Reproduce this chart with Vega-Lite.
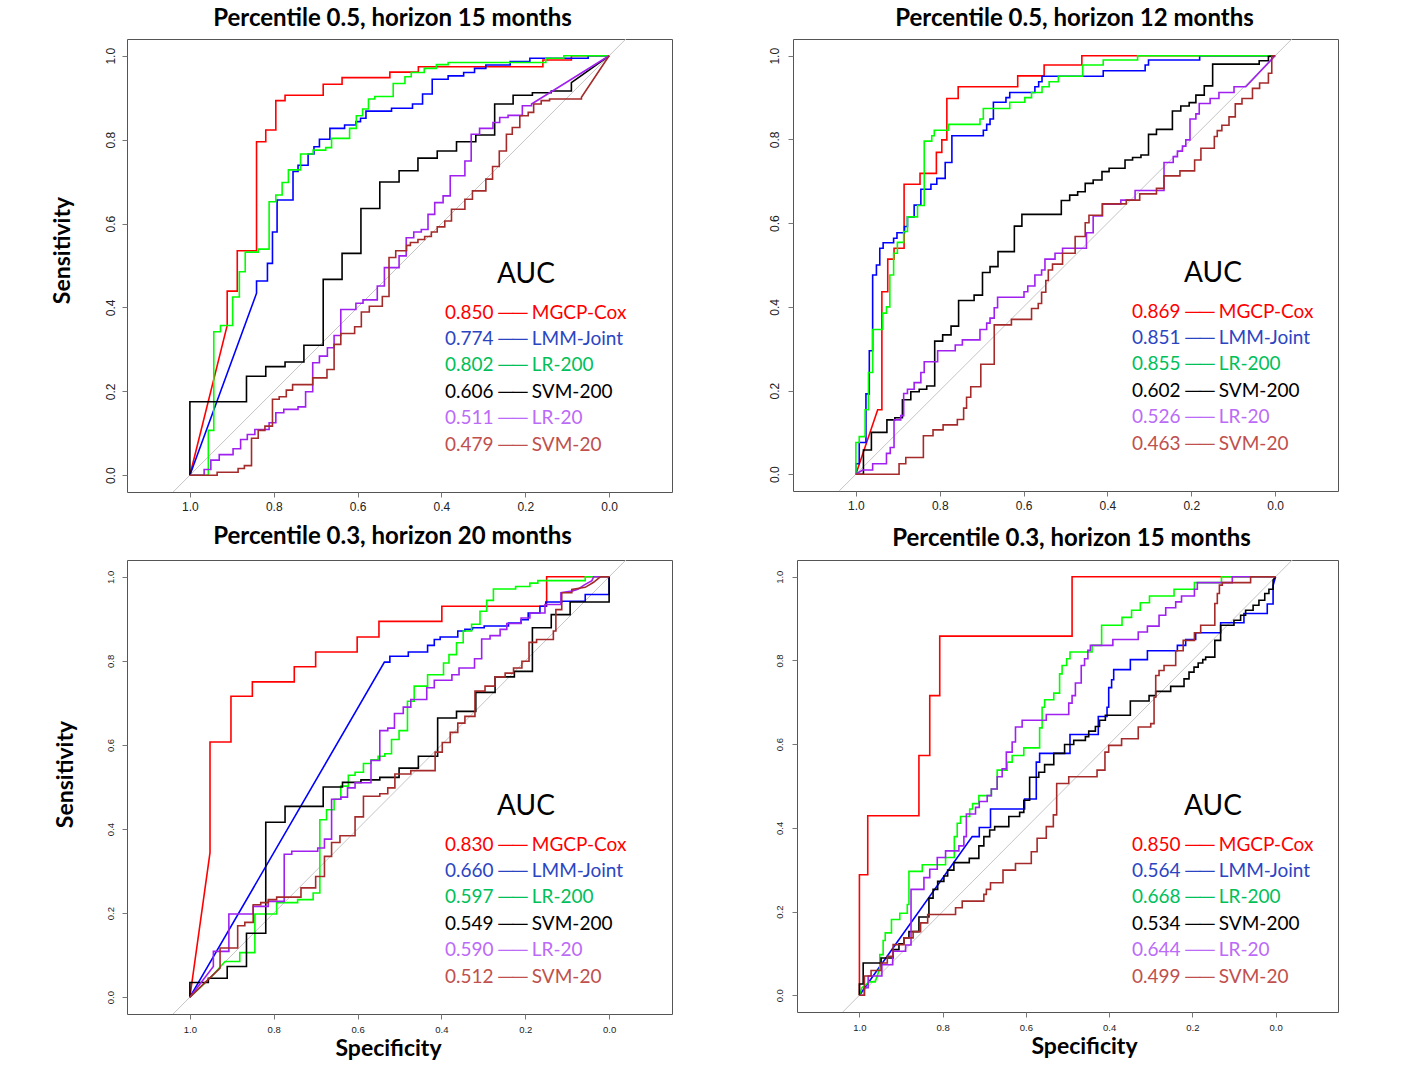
{
"$schema": "https://vega.github.io/schema/vega-lite/v6.json",
"background": "white",
"padding": {"left": 50, "top": 6, "right": 0, "bottom": 0},
"config": {
 "view": {"stroke": "#555", "strokeWidth": 1},
 "title": {"font": "Lato", "fontSize": 24, "fontWeight": "bold", "color": "#000", "anchor": "middle", "baseline": "alphabetic"},
 "axis": {"grid": false, "domain": false, "tickColor": "#777", "tickSize": 5, "labelFont": "Liberation Sans", "labelColor": "#222", "titleFont": "Lato", "titleFontSize": 23, "titleFontWeight": "bold", "titleColor": "#000"},
 "legend": {"titleFont": "Lato", "titleFontSize": 28, "titleFontWeight": "normal", "titleColor": "#000", "titleAnchor": "middle", "titleAlign": "center", "titlePadding": 14, "labelFont": "Lato", "labelFontSize": 19, "labelLimit": 400, "rowPadding": 6.4, "symbolSize": 0, "symbolOpacity": 0, "symbolStrokeWidth": 0, "labelOffset": 0}
},
"datasets": {
 "diag": [{"x": 1.04, "y": -0.04}, {"x": -0.04, "y": 1.04}],
 "roc": [
{"p":1,"m":"MGCP-Cox","x":1,"y":0},{"p":1,"m":"MGCP-Cox","x":0.911,"y":0.357},{"p":1,"m":"MGCP-Cox","x":0.911,"y":0.439},{"p":1,"m":"MGCP-Cox","x":0.887,"y":0.439},{"p":1,"m":"MGCP-Cox","x":0.887,"y":0.535},{"p":1,"m":"MGCP-Cox","x":0.841,"y":0.535},{"p":1,"m":"MGCP-Cox","x":0.841,"y":0.795},{"p":1,"m":"MGCP-Cox","x":0.819,"y":0.795},{"p":1,"m":"MGCP-Cox","x":0.819,"y":0.823},{"p":1,"m":"MGCP-Cox","x":0.795,"y":0.823},{"p":1,"m":"MGCP-Cox","x":0.795,"y":0.893},{"p":1,"m":"MGCP-Cox","x":0.773,"y":0.893},{"p":1,"m":"MGCP-Cox","x":0.773,"y":0.906},{"p":1,"m":"MGCP-Cox","x":0.682,"y":0.906},{"p":1,"m":"MGCP-Cox","x":0.682,"y":0.932},{"p":1,"m":"MGCP-Cox","x":0.637,"y":0.932},{"p":1,"m":"MGCP-Cox","x":0.637,"y":0.948},{"p":1,"m":"MGCP-Cox","x":0.523,"y":0.948},{"p":1,"m":"MGCP-Cox","x":0.523,"y":0.961},{"p":1,"m":"MGCP-Cox","x":0.455,"y":0.961},{"p":1,"m":"MGCP-Cox","x":0.455,"y":0.974},{"p":1,"m":"MGCP-Cox","x":0.158,"y":0.974},{"p":1,"m":"MGCP-Cox","x":0.158,"y":0.99},{"p":1,"m":"MGCP-Cox","x":0.09,"y":0.99},{"p":1,"m":"MGCP-Cox","x":0.09,"y":1},{"p":1,"m":"MGCP-Cox","x":0,"y":1},
{"p":1,"m":"LMM-Joint","x":1,"y":0},{"p":1,"m":"LMM-Joint","x":0.841,"y":0.434},{"p":1,"m":"LMM-Joint","x":0.841,"y":0.463},{"p":1,"m":"LMM-Joint","x":0.815,"y":0.463},{"p":1,"m":"LMM-Joint","x":0.815,"y":0.505},{"p":1,"m":"LMM-Joint","x":0.803,"y":0.505},{"p":1,"m":"LMM-Joint","x":0.803,"y":0.58},{"p":1,"m":"LMM-Joint","x":0.792,"y":0.58},{"p":1,"m":"LMM-Joint","x":0.792,"y":0.656},{"p":1,"m":"LMM-Joint","x":0.754,"y":0.656},{"p":1,"m":"LMM-Joint","x":0.754,"y":0.724},{"p":1,"m":"LMM-Joint","x":0.742,"y":0.724},{"p":1,"m":"LMM-Joint","x":0.742,"y":0.739},{"p":1,"m":"LMM-Joint","x":0.718,"y":0.739},{"p":1,"m":"LMM-Joint","x":0.718,"y":0.766},{"p":1,"m":"LMM-Joint","x":0.704,"y":0.766},{"p":1,"m":"LMM-Joint","x":0.704,"y":0.783},{"p":1,"m":"LMM-Joint","x":0.691,"y":0.783},{"p":1,"m":"LMM-Joint","x":0.691,"y":0.801},{"p":1,"m":"LMM-Joint","x":0.666,"y":0.801},{"p":1,"m":"LMM-Joint","x":0.666,"y":0.827},{"p":1,"m":"LMM-Joint","x":0.631,"y":0.827},{"p":1,"m":"LMM-Joint","x":0.631,"y":0.835},{"p":1,"m":"LMM-Joint","x":0.604,"y":0.835},{"p":1,"m":"LMM-Joint","x":0.604,"y":0.843},{"p":1,"m":"LMM-Joint","x":0.593,"y":0.843},{"p":1,"m":"LMM-Joint","x":0.593,"y":0.851},{"p":1,"m":"LMM-Joint","x":0.58,"y":0.851},{"p":1,"m":"LMM-Joint","x":0.58,"y":0.868},{"p":1,"m":"LMM-Joint","x":0.519,"y":0.868},{"p":1,"m":"LMM-Joint","x":0.519,"y":0.875},{"p":1,"m":"LMM-Joint","x":0.469,"y":0.875},{"p":1,"m":"LMM-Joint","x":0.469,"y":0.885},{"p":1,"m":"LMM-Joint","x":0.445,"y":0.885},{"p":1,"m":"LMM-Joint","x":0.445,"y":0.909},{"p":1,"m":"LMM-Joint","x":0.422,"y":0.909},{"p":1,"m":"LMM-Joint","x":0.422,"y":0.944},{"p":1,"m":"LMM-Joint","x":0.384,"y":0.944},{"p":1,"m":"LMM-Joint","x":0.384,"y":0.952},{"p":1,"m":"LMM-Joint","x":0.347,"y":0.952},{"p":1,"m":"LMM-Joint","x":0.347,"y":0.96},{"p":1,"m":"LMM-Joint","x":0.321,"y":0.96},{"p":1,"m":"LMM-Joint","x":0.321,"y":0.97},{"p":1,"m":"LMM-Joint","x":0.294,"y":0.97},{"p":1,"m":"LMM-Joint","x":0.294,"y":0.978},{"p":1,"m":"LMM-Joint","x":0.236,"y":0.978},{"p":1,"m":"LMM-Joint","x":0.236,"y":0.986},{"p":1,"m":"LMM-Joint","x":0.189,"y":0.986},{"p":1,"m":"LMM-Joint","x":0.189,"y":0.994},{"p":1,"m":"LMM-Joint","x":0.05,"y":0.994},{"p":1,"m":"LMM-Joint","x":0.05,"y":1},{"p":1,"m":"LMM-Joint","x":0,"y":1},
{"p":1,"m":"LR-200","x":1,"y":0},{"p":1,"m":"LR-200","x":0.956,"y":0},{"p":1,"m":"LR-200","x":0.956,"y":0.107},{"p":1,"m":"LR-200","x":0.943,"y":0.107},{"p":1,"m":"LR-200","x":0.943,"y":0.342},{"p":1,"m":"LR-200","x":0.927,"y":0.342},{"p":1,"m":"LR-200","x":0.927,"y":0.357},{"p":1,"m":"LR-200","x":0.898,"y":0.357},{"p":1,"m":"LR-200","x":0.898,"y":0.425},{"p":1,"m":"LR-200","x":0.882,"y":0.425},{"p":1,"m":"LR-200","x":0.882,"y":0.485},{"p":1,"m":"LR-200","x":0.868,"y":0.485},{"p":1,"m":"LR-200","x":0.868,"y":0.532},{"p":1,"m":"LR-200","x":0.837,"y":0.532},{"p":1,"m":"LR-200","x":0.837,"y":0.539},{"p":1,"m":"LR-200","x":0.811,"y":0.539},{"p":1,"m":"LR-200","x":0.811,"y":0.652},{"p":1,"m":"LR-200","x":0.795,"y":0.652},{"p":1,"m":"LR-200","x":0.795,"y":0.668},{"p":1,"m":"LR-200","x":0.78,"y":0.668},{"p":1,"m":"LR-200","x":0.78,"y":0.698},{"p":1,"m":"LR-200","x":0.765,"y":0.698},{"p":1,"m":"LR-200","x":0.765,"y":0.728},{"p":1,"m":"LR-200","x":0.736,"y":0.728},{"p":1,"m":"LR-200","x":0.736,"y":0.766},{"p":1,"m":"LR-200","x":0.706,"y":0.766},{"p":1,"m":"LR-200","x":0.706,"y":0.775},{"p":1,"m":"LR-200","x":0.676,"y":0.775},{"p":1,"m":"LR-200","x":0.676,"y":0.781},{"p":1,"m":"LR-200","x":0.662,"y":0.781},{"p":1,"m":"LR-200","x":0.662,"y":0.803},{"p":1,"m":"LR-200","x":0.619,"y":0.803},{"p":1,"m":"LR-200","x":0.619,"y":0.827},{"p":1,"m":"LR-200","x":0.603,"y":0.827},{"p":1,"m":"LR-200","x":0.603,"y":0.857},{"p":1,"m":"LR-200","x":0.588,"y":0.857},{"p":1,"m":"LR-200","x":0.588,"y":0.873},{"p":1,"m":"LR-200","x":0.574,"y":0.873},{"p":1,"m":"LR-200","x":0.574,"y":0.897},{"p":1,"m":"LR-200","x":0.559,"y":0.897},{"p":1,"m":"LR-200","x":0.559,"y":0.903},{"p":1,"m":"LR-200","x":0.515,"y":0.903},{"p":1,"m":"LR-200","x":0.515,"y":0.934},{"p":1,"m":"LR-200","x":0.487,"y":0.934},{"p":1,"m":"LR-200","x":0.487,"y":0.95},{"p":1,"m":"LR-200","x":0.472,"y":0.95},{"p":1,"m":"LR-200","x":0.472,"y":0.96},{"p":1,"m":"LR-200","x":0.441,"y":0.96},{"p":1,"m":"LR-200","x":0.441,"y":0.97},{"p":1,"m":"LR-200","x":0.412,"y":0.97},{"p":1,"m":"LR-200","x":0.412,"y":0.979},{"p":1,"m":"LR-200","x":0.384,"y":0.979},{"p":1,"m":"LR-200","x":0.384,"y":0.984},{"p":1,"m":"LR-200","x":0.151,"y":0.984},{"p":1,"m":"LR-200","x":0.151,"y":0.994},{"p":1,"m":"LR-200","x":0.108,"y":0.994},{"p":1,"m":"LR-200","x":0.108,"y":1},{"p":1,"m":"LR-200","x":0,"y":1},
{"p":1,"m":"SVM-200","x":1,"y":0},{"p":1,"m":"SVM-200","x":1,"y":0.175},{"p":1,"m":"SVM-200","x":0.865,"y":0.175},{"p":1,"m":"SVM-200","x":0.865,"y":0.236},{"p":1,"m":"SVM-200","x":0.819,"y":0.236},{"p":1,"m":"SVM-200","x":0.819,"y":0.259},{"p":1,"m":"SVM-200","x":0.773,"y":0.259},{"p":1,"m":"SVM-200","x":0.773,"y":0.27},{"p":1,"m":"SVM-200","x":0.728,"y":0.27},{"p":1,"m":"SVM-200","x":0.728,"y":0.31},{"p":1,"m":"SVM-200","x":0.682,"y":0.31},{"p":1,"m":"SVM-200","x":0.682,"y":0.467},{"p":1,"m":"SVM-200","x":0.637,"y":0.467},{"p":1,"m":"SVM-200","x":0.637,"y":0.529},{"p":1,"m":"SVM-200","x":0.592,"y":0.529},{"p":1,"m":"SVM-200","x":0.592,"y":0.636},{"p":1,"m":"SVM-200","x":0.547,"y":0.636},{"p":1,"m":"SVM-200","x":0.547,"y":0.699},{"p":1,"m":"SVM-200","x":0.501,"y":0.699},{"p":1,"m":"SVM-200","x":0.501,"y":0.726},{"p":1,"m":"SVM-200","x":0.456,"y":0.726},{"p":1,"m":"SVM-200","x":0.456,"y":0.756},{"p":1,"m":"SVM-200","x":0.41,"y":0.756},{"p":1,"m":"SVM-200","x":0.41,"y":0.773},{"p":1,"m":"SVM-200","x":0.364,"y":0.773},{"p":1,"m":"SVM-200","x":0.364,"y":0.795},{"p":1,"m":"SVM-200","x":0.318,"y":0.795},{"p":1,"m":"SVM-200","x":0.318,"y":0.811},{"p":1,"m":"SVM-200","x":0.273,"y":0.811},{"p":1,"m":"SVM-200","x":0.273,"y":0.885},{"p":1,"m":"SVM-200","x":0.229,"y":0.885},{"p":1,"m":"SVM-200","x":0.229,"y":0.906},{"p":1,"m":"SVM-200","x":0.183,"y":0.906},{"p":1,"m":"SVM-200","x":0.183,"y":0.912},{"p":1,"m":"SVM-200","x":0.138,"y":0.912},{"p":1,"m":"SVM-200","x":0.138,"y":0.916},{"p":1,"m":"SVM-200","x":0.09,"y":0.916},{"p":1,"m":"SVM-200","x":0.09,"y":0.936},{"p":1,"m":"SVM-200","x":0,"y":1},
{"p":1,"m":"LR-20","x":1,"y":0},{"p":1,"m":"LR-20","x":0.966,"y":0},{"p":1,"m":"LR-20","x":0.966,"y":0.0135},{"p":1,"m":"LR-20","x":0.95,"y":0.0135},{"p":1,"m":"LR-20","x":0.95,"y":0.036},{"p":1,"m":"LR-20","x":0.93,"y":0.036},{"p":1,"m":"LR-20","x":0.93,"y":0.049},{"p":1,"m":"LR-20","x":0.897,"y":0.049},{"p":1,"m":"LR-20","x":0.897,"y":0.063},{"p":1,"m":"LR-20","x":0.879,"y":0.063},{"p":1,"m":"LR-20","x":0.879,"y":0.085},{"p":1,"m":"LR-20","x":0.863,"y":0.085},{"p":1,"m":"LR-20","x":0.863,"y":0.097},{"p":1,"m":"LR-20","x":0.845,"y":0.097},{"p":1,"m":"LR-20","x":0.845,"y":0.109},{"p":1,"m":"LR-20","x":0.811,"y":0.109},{"p":1,"m":"LR-20","x":0.811,"y":0.125},{"p":1,"m":"LR-20","x":0.795,"y":0.125},{"p":1,"m":"LR-20","x":0.795,"y":0.149},{"p":1,"m":"LR-20","x":0.776,"y":0.149},{"p":1,"m":"LR-20","x":0.776,"y":0.157},{"p":1,"m":"LR-20","x":0.742,"y":0.157},{"p":1,"m":"LR-20","x":0.742,"y":0.163},{"p":1,"m":"LR-20","x":0.724,"y":0.163},{"p":1,"m":"LR-20","x":0.724,"y":0.199},{"p":1,"m":"LR-20","x":0.707,"y":0.199},{"p":1,"m":"LR-20","x":0.707,"y":0.268},{"p":1,"m":"LR-20","x":0.691,"y":0.268},{"p":1,"m":"LR-20","x":0.691,"y":0.284},{"p":1,"m":"LR-20","x":0.672,"y":0.284},{"p":1,"m":"LR-20","x":0.672,"y":0.304},{"p":1,"m":"LR-20","x":0.656,"y":0.304},{"p":1,"m":"LR-20","x":0.656,"y":0.333},{"p":1,"m":"LR-20","x":0.64,"y":0.333},{"p":1,"m":"LR-20","x":0.64,"y":0.395},{"p":1,"m":"LR-20","x":0.604,"y":0.395},{"p":1,"m":"LR-20","x":0.604,"y":0.41},{"p":1,"m":"LR-20","x":0.587,"y":0.41},{"p":1,"m":"LR-20","x":0.587,"y":0.418},{"p":1,"m":"LR-20","x":0.553,"y":0.418},{"p":1,"m":"LR-20","x":0.553,"y":0.451},{"p":1,"m":"LR-20","x":0.536,"y":0.451},{"p":1,"m":"LR-20","x":0.536,"y":0.495},{"p":1,"m":"LR-20","x":0.501,"y":0.495},{"p":1,"m":"LR-20","x":0.501,"y":0.523},{"p":1,"m":"LR-20","x":0.484,"y":0.523},{"p":1,"m":"LR-20","x":0.484,"y":0.566},{"p":1,"m":"LR-20","x":0.466,"y":0.566},{"p":1,"m":"LR-20","x":0.466,"y":0.58},{"p":1,"m":"LR-20","x":0.448,"y":0.58},{"p":1,"m":"LR-20","x":0.448,"y":0.586},{"p":1,"m":"LR-20","x":0.432,"y":0.586},{"p":1,"m":"LR-20","x":0.432,"y":0.622},{"p":1,"m":"LR-20","x":0.416,"y":0.622},{"p":1,"m":"LR-20","x":0.416,"y":0.65},{"p":1,"m":"LR-20","x":0.396,"y":0.65},{"p":1,"m":"LR-20","x":0.396,"y":0.666},{"p":1,"m":"LR-20","x":0.379,"y":0.666},{"p":1,"m":"LR-20","x":0.379,"y":0.714},{"p":1,"m":"LR-20","x":0.344,"y":0.714},{"p":1,"m":"LR-20","x":0.344,"y":0.749},{"p":1,"m":"LR-20","x":0.329,"y":0.749},{"p":1,"m":"LR-20","x":0.329,"y":0.813},{"p":1,"m":"LR-20","x":0.309,"y":0.813},{"p":1,"m":"LR-20","x":0.309,"y":0.827},{"p":1,"m":"LR-20","x":0.277,"y":0.827},{"p":1,"m":"LR-20","x":0.277,"y":0.841},{"p":1,"m":"LR-20","x":0.261,"y":0.841},{"p":1,"m":"LR-20","x":0.261,"y":0.853},{"p":1,"m":"LR-20","x":0.241,"y":0.853},{"p":1,"m":"LR-20","x":0.241,"y":0.858},{"p":1,"m":"LR-20","x":0.207,"y":0.858},{"p":1,"m":"LR-20","x":0.207,"y":0.881},{"p":1,"m":"LR-20","x":0.185,"y":0.881},{"p":1,"m":"LR-20","x":0.185,"y":0.885},{"p":1,"m":"LR-20","x":0,"y":1},
{"p":1,"m":"SVM-20","x":1,"y":0},{"p":1,"m":"SVM-20","x":0.935,"y":0},{"p":1,"m":"SVM-20","x":0.935,"y":0.007},{"p":1,"m":"SVM-20","x":0.885,"y":0.007},{"p":1,"m":"SVM-20","x":0.885,"y":0.016},{"p":1,"m":"SVM-20","x":0.87,"y":0.016},{"p":1,"m":"SVM-20","x":0.87,"y":0.023},{"p":1,"m":"SVM-20","x":0.853,"y":0.023},{"p":1,"m":"SVM-20","x":0.853,"y":0.088},{"p":1,"m":"SVM-20","x":0.837,"y":0.088},{"p":1,"m":"SVM-20","x":0.837,"y":0.107},{"p":1,"m":"SVM-20","x":0.821,"y":0.107},{"p":1,"m":"SVM-20","x":0.821,"y":0.117},{"p":1,"m":"SVM-20","x":0.803,"y":0.117},{"p":1,"m":"SVM-20","x":0.803,"y":0.181},{"p":1,"m":"SVM-20","x":0.787,"y":0.181},{"p":1,"m":"SVM-20","x":0.787,"y":0.187},{"p":1,"m":"SVM-20","x":0.77,"y":0.187},{"p":1,"m":"SVM-20","x":0.77,"y":0.203},{"p":1,"m":"SVM-20","x":0.755,"y":0.203},{"p":1,"m":"SVM-20","x":0.755,"y":0.216},{"p":1,"m":"SVM-20","x":0.707,"y":0.216},{"p":1,"m":"SVM-20","x":0.707,"y":0.232},{"p":1,"m":"SVM-20","x":0.673,"y":0.232},{"p":1,"m":"SVM-20","x":0.673,"y":0.252},{"p":1,"m":"SVM-20","x":0.656,"y":0.252},{"p":1,"m":"SVM-20","x":0.656,"y":0.312},{"p":1,"m":"SVM-20","x":0.64,"y":0.312},{"p":1,"m":"SVM-20","x":0.64,"y":0.338},{"p":1,"m":"SVM-20","x":0.607,"y":0.338},{"p":1,"m":"SVM-20","x":0.607,"y":0.354},{"p":1,"m":"SVM-20","x":0.591,"y":0.354},{"p":1,"m":"SVM-20","x":0.591,"y":0.389},{"p":1,"m":"SVM-20","x":0.572,"y":0.389},{"p":1,"m":"SVM-20","x":0.572,"y":0.403},{"p":1,"m":"SVM-20","x":0.541,"y":0.403},{"p":1,"m":"SVM-20","x":0.541,"y":0.426},{"p":1,"m":"SVM-20","x":0.525,"y":0.426},{"p":1,"m":"SVM-20","x":0.525,"y":0.519},{"p":1,"m":"SVM-20","x":0.509,"y":0.519},{"p":1,"m":"SVM-20","x":0.509,"y":0.535},{"p":1,"m":"SVM-20","x":0.483,"y":0.535},{"p":1,"m":"SVM-20","x":0.483,"y":0.548},{"p":1,"m":"SVM-20","x":0.474,"y":0.548},{"p":1,"m":"SVM-20","x":0.474,"y":0.555},{"p":1,"m":"SVM-20","x":0.456,"y":0.555},{"p":1,"m":"SVM-20","x":0.456,"y":0.562},{"p":1,"m":"SVM-20","x":0.44,"y":0.562},{"p":1,"m":"SVM-20","x":0.44,"y":0.569},{"p":1,"m":"SVM-20","x":0.424,"y":0.569},{"p":1,"m":"SVM-20","x":0.424,"y":0.58},{"p":1,"m":"SVM-20","x":0.41,"y":0.58},{"p":1,"m":"SVM-20","x":0.41,"y":0.592},{"p":1,"m":"SVM-20","x":0.392,"y":0.592},{"p":1,"m":"SVM-20","x":0.392,"y":0.606},{"p":1,"m":"SVM-20","x":0.376,"y":0.606},{"p":1,"m":"SVM-20","x":0.376,"y":0.634},{"p":1,"m":"SVM-20","x":0.344,"y":0.634},{"p":1,"m":"SVM-20","x":0.344,"y":0.658},{"p":1,"m":"SVM-20","x":0.326,"y":0.658},{"p":1,"m":"SVM-20","x":0.326,"y":0.678},{"p":1,"m":"SVM-20","x":0.294,"y":0.678},{"p":1,"m":"SVM-20","x":0.294,"y":0.706},{"p":1,"m":"SVM-20","x":0.278,"y":0.706},{"p":1,"m":"SVM-20","x":0.278,"y":0.736},{"p":1,"m":"SVM-20","x":0.262,"y":0.736},{"p":1,"m":"SVM-20","x":0.262,"y":0.773},{"p":1,"m":"SVM-20","x":0.245,"y":0.773},{"p":1,"m":"SVM-20","x":0.245,"y":0.813},{"p":1,"m":"SVM-20","x":0.231,"y":0.813},{"p":1,"m":"SVM-20","x":0.231,"y":0.829},{"p":1,"m":"SVM-20","x":0.213,"y":0.829},{"p":1,"m":"SVM-20","x":0.213,"y":0.857},{"p":1,"m":"SVM-20","x":0.193,"y":0.857},{"p":1,"m":"SVM-20","x":0.193,"y":0.865},{"p":1,"m":"SVM-20","x":0.18,"y":0.865},{"p":1,"m":"SVM-20","x":0.18,"y":0.885},{"p":1,"m":"SVM-20","x":0.162,"y":0.885},{"p":1,"m":"SVM-20","x":0.162,"y":0.893},{"p":1,"m":"SVM-20","x":0.142,"y":0.893},{"p":1,"m":"SVM-20","x":0.142,"y":0.897},{"p":1,"m":"SVM-20","x":0.066,"y":0.897},{"p":1,"m":"SVM-20","x":0.066,"y":0.901},{"p":1,"m":"SVM-20","x":0,"y":1},

{"p":2,"m":"MGCP-Cox","x":1,"y":0},{"p":2,"m":"MGCP-Cox","x":0.948,"y":0.154},{"p":2,"m":"MGCP-Cox","x":0.938,"y":0.154},{"p":2,"m":"MGCP-Cox","x":0.938,"y":0.436},{"p":2,"m":"MGCP-Cox","x":0.924,"y":0.436},{"p":2,"m":"MGCP-Cox","x":0.924,"y":0.514},{"p":2,"m":"MGCP-Cox","x":0.909,"y":0.514},{"p":2,"m":"MGCP-Cox","x":0.909,"y":0.54},{"p":2,"m":"MGCP-Cox","x":0.885,"y":0.54},{"p":2,"m":"MGCP-Cox","x":0.885,"y":0.693},{"p":2,"m":"MGCP-Cox","x":0.847,"y":0.693},{"p":2,"m":"MGCP-Cox","x":0.847,"y":0.719},{"p":2,"m":"MGCP-Cox","x":0.808,"y":0.719},{"p":2,"m":"MGCP-Cox","x":0.808,"y":0.769},{"p":2,"m":"MGCP-Cox","x":0.795,"y":0.769},{"p":2,"m":"MGCP-Cox","x":0.795,"y":0.799},{"p":2,"m":"MGCP-Cox","x":0.783,"y":0.799},{"p":2,"m":"MGCP-Cox","x":0.783,"y":0.898},{"p":2,"m":"MGCP-Cox","x":0.756,"y":0.898},{"p":2,"m":"MGCP-Cox","x":0.756,"y":0.926},{"p":2,"m":"MGCP-Cox","x":0.614,"y":0.926},{"p":2,"m":"MGCP-Cox","x":0.614,"y":0.952},{"p":2,"m":"MGCP-Cox","x":0.551,"y":0.952},{"p":2,"m":"MGCP-Cox","x":0.551,"y":0.978},{"p":2,"m":"MGCP-Cox","x":0.461,"y":0.978},{"p":2,"m":"MGCP-Cox","x":0.461,"y":1},{"p":2,"m":"MGCP-Cox","x":0,"y":1},
{"p":2,"m":"LMM-Joint","x":1,"y":0},{"p":2,"m":"LMM-Joint","x":1,"y":0.025},{"p":2,"m":"LMM-Joint","x":0.992,"y":0.025},{"p":2,"m":"LMM-Joint","x":0.992,"y":0.076},{"p":2,"m":"LMM-Joint","x":0.976,"y":0.076},{"p":2,"m":"LMM-Joint","x":0.976,"y":0.192},{"p":2,"m":"LMM-Joint","x":0.968,"y":0.192},{"p":2,"m":"LMM-Joint","x":0.968,"y":0.295},{"p":2,"m":"LMM-Joint","x":0.96,"y":0.295},{"p":2,"m":"LMM-Joint","x":0.96,"y":0.476},{"p":2,"m":"LMM-Joint","x":0.951,"y":0.476},{"p":2,"m":"LMM-Joint","x":0.951,"y":0.5},{"p":2,"m":"LMM-Joint","x":0.943,"y":0.5},{"p":2,"m":"LMM-Joint","x":0.943,"y":0.54},{"p":2,"m":"LMM-Joint","x":0.935,"y":0.54},{"p":2,"m":"LMM-Joint","x":0.935,"y":0.553},{"p":2,"m":"LMM-Joint","x":0.91,"y":0.553},{"p":2,"m":"LMM-Joint","x":0.91,"y":0.564},{"p":2,"m":"LMM-Joint","x":0.902,"y":0.564},{"p":2,"m":"LMM-Joint","x":0.902,"y":0.577},{"p":2,"m":"LMM-Joint","x":0.884,"y":0.577},{"p":2,"m":"LMM-Joint","x":0.884,"y":0.592},{"p":2,"m":"LMM-Joint","x":0.877,"y":0.592},{"p":2,"m":"LMM-Joint","x":0.877,"y":0.615},{"p":2,"m":"LMM-Joint","x":0.861,"y":0.615},{"p":2,"m":"LMM-Joint","x":0.861,"y":0.643},{"p":2,"m":"LMM-Joint","x":0.845,"y":0.643},{"p":2,"m":"LMM-Joint","x":0.845,"y":0.681},{"p":2,"m":"LMM-Joint","x":0.821,"y":0.681},{"p":2,"m":"LMM-Joint","x":0.821,"y":0.693},{"p":2,"m":"LMM-Joint","x":0.807,"y":0.693},{"p":2,"m":"LMM-Joint","x":0.807,"y":0.707},{"p":2,"m":"LMM-Joint","x":0.787,"y":0.707},{"p":2,"m":"LMM-Joint","x":0.787,"y":0.745},{"p":2,"m":"LMM-Joint","x":0.771,"y":0.745},{"p":2,"m":"LMM-Joint","x":0.771,"y":0.809},{"p":2,"m":"LMM-Joint","x":0.696,"y":0.809},{"p":2,"m":"LMM-Joint","x":0.696,"y":0.822},{"p":2,"m":"LMM-Joint","x":0.688,"y":0.822},{"p":2,"m":"LMM-Joint","x":0.688,"y":0.836},{"p":2,"m":"LMM-Joint","x":0.68,"y":0.836},{"p":2,"m":"LMM-Joint","x":0.68,"y":0.849},{"p":2,"m":"LMM-Joint","x":0.672,"y":0.849},{"p":2,"m":"LMM-Joint","x":0.672,"y":0.889},{"p":2,"m":"LMM-Joint","x":0.642,"y":0.889},{"p":2,"m":"LMM-Joint","x":0.642,"y":0.9},{"p":2,"m":"LMM-Joint","x":0.633,"y":0.9},{"p":2,"m":"LMM-Joint","x":0.633,"y":0.912},{"p":2,"m":"LMM-Joint","x":0.573,"y":0.912},{"p":2,"m":"LMM-Joint","x":0.573,"y":0.926},{"p":2,"m":"LMM-Joint","x":0.564,"y":0.926},{"p":2,"m":"LMM-Joint","x":0.564,"y":0.938},{"p":2,"m":"LMM-Joint","x":0.556,"y":0.938},{"p":2,"m":"LMM-Joint","x":0.556,"y":0.951},{"p":2,"m":"LMM-Joint","x":0.41,"y":0.951},{"p":2,"m":"LMM-Joint","x":0.41,"y":0.964},{"p":2,"m":"LMM-Joint","x":0.31,"y":0.964},{"p":2,"m":"LMM-Joint","x":0.31,"y":0.978},{"p":2,"m":"LMM-Joint","x":0.302,"y":0.978},{"p":2,"m":"LMM-Joint","x":0.302,"y":0.99},{"p":2,"m":"LMM-Joint","x":0.18,"y":0.99},{"p":2,"m":"LMM-Joint","x":0.18,"y":1},{"p":2,"m":"LMM-Joint","x":0,"y":1},
{"p":2,"m":"LR-200","x":1,"y":0},{"p":2,"m":"LR-200","x":1,"y":0.076},{"p":2,"m":"LR-200","x":0.992,"y":0.076},{"p":2,"m":"LR-200","x":0.992,"y":0.09},{"p":2,"m":"LR-200","x":0.978,"y":0.09},{"p":2,"m":"LR-200","x":0.978,"y":0.154},{"p":2,"m":"LR-200","x":0.97,"y":0.154},{"p":2,"m":"LR-200","x":0.97,"y":0.243},{"p":2,"m":"LR-200","x":0.96,"y":0.243},{"p":2,"m":"LR-200","x":0.96,"y":0.346},{"p":2,"m":"LR-200","x":0.936,"y":0.346},{"p":2,"m":"LR-200","x":0.936,"y":0.385},{"p":2,"m":"LR-200","x":0.927,"y":0.385},{"p":2,"m":"LR-200","x":0.927,"y":0.4},{"p":2,"m":"LR-200","x":0.919,"y":0.4},{"p":2,"m":"LR-200","x":0.919,"y":0.476},{"p":2,"m":"LR-200","x":0.91,"y":0.476},{"p":2,"m":"LR-200","x":0.91,"y":0.528},{"p":2,"m":"LR-200","x":0.901,"y":0.528},{"p":2,"m":"LR-200","x":0.901,"y":0.554},{"p":2,"m":"LR-200","x":0.886,"y":0.554},{"p":2,"m":"LR-200","x":0.886,"y":0.58},{"p":2,"m":"LR-200","x":0.877,"y":0.58},{"p":2,"m":"LR-200","x":0.877,"y":0.615},{"p":2,"m":"LR-200","x":0.853,"y":0.615},{"p":2,"m":"LR-200","x":0.853,"y":0.642},{"p":2,"m":"LR-200","x":0.837,"y":0.642},{"p":2,"m":"LR-200","x":0.837,"y":0.796},{"p":2,"m":"LR-200","x":0.819,"y":0.796},{"p":2,"m":"LR-200","x":0.819,"y":0.809},{"p":2,"m":"LR-200","x":0.813,"y":0.809},{"p":2,"m":"LR-200","x":0.813,"y":0.822},{"p":2,"m":"LR-200","x":0.779,"y":0.822},{"p":2,"m":"LR-200","x":0.779,"y":0.836},{"p":2,"m":"LR-200","x":0.704,"y":0.836},{"p":2,"m":"LR-200","x":0.704,"y":0.849},{"p":2,"m":"LR-200","x":0.696,"y":0.849},{"p":2,"m":"LR-200","x":0.696,"y":0.874},{"p":2,"m":"LR-200","x":0.633,"y":0.874},{"p":2,"m":"LR-200","x":0.633,"y":0.889},{"p":2,"m":"LR-200","x":0.597,"y":0.889},{"p":2,"m":"LR-200","x":0.597,"y":0.9},{"p":2,"m":"LR-200","x":0.581,"y":0.9},{"p":2,"m":"LR-200","x":0.581,"y":0.912},{"p":2,"m":"LR-200","x":0.556,"y":0.912},{"p":2,"m":"LR-200","x":0.556,"y":0.926},{"p":2,"m":"LR-200","x":0.539,"y":0.926},{"p":2,"m":"LR-200","x":0.539,"y":0.938},{"p":2,"m":"LR-200","x":0.517,"y":0.938},{"p":2,"m":"LR-200","x":0.517,"y":0.951},{"p":2,"m":"LR-200","x":0.459,"y":0.951},{"p":2,"m":"LR-200","x":0.459,"y":0.978},{"p":2,"m":"LR-200","x":0.41,"y":0.978},{"p":2,"m":"LR-200","x":0.41,"y":0.99},{"p":2,"m":"LR-200","x":0.328,"y":0.99},{"p":2,"m":"LR-200","x":0.328,"y":1},{"p":2,"m":"LR-200","x":0,"y":1},
{"p":2,"m":"SVM-200","x":1,"y":0},{"p":2,"m":"SVM-200","x":0.982,"y":0},{"p":2,"m":"SVM-200","x":0.982,"y":0.058},{"p":2,"m":"SVM-200","x":0.963,"y":0.058},{"p":2,"m":"SVM-200","x":0.963,"y":0.1},{"p":2,"m":"SVM-200","x":0.926,"y":0.1},{"p":2,"m":"SVM-200","x":0.926,"y":0.13},{"p":2,"m":"SVM-200","x":0.907,"y":0.13},{"p":2,"m":"SVM-200","x":0.907,"y":0.135},{"p":2,"m":"SVM-200","x":0.889,"y":0.135},{"p":2,"m":"SVM-200","x":0.889,"y":0.178},{"p":2,"m":"SVM-200","x":0.869,"y":0.178},{"p":2,"m":"SVM-200","x":0.869,"y":0.197},{"p":2,"m":"SVM-200","x":0.849,"y":0.197},{"p":2,"m":"SVM-200","x":0.849,"y":0.203},{"p":2,"m":"SVM-200","x":0.831,"y":0.203},{"p":2,"m":"SVM-200","x":0.831,"y":0.211},{"p":2,"m":"SVM-200","x":0.812,"y":0.211},{"p":2,"m":"SVM-200","x":0.812,"y":0.318},{"p":2,"m":"SVM-200","x":0.793,"y":0.318},{"p":2,"m":"SVM-200","x":0.793,"y":0.333},{"p":2,"m":"SVM-200","x":0.773,"y":0.333},{"p":2,"m":"SVM-200","x":0.773,"y":0.354},{"p":2,"m":"SVM-200","x":0.755,"y":0.354},{"p":2,"m":"SVM-200","x":0.755,"y":0.415},{"p":2,"m":"SVM-200","x":0.718,"y":0.415},{"p":2,"m":"SVM-200","x":0.718,"y":0.428},{"p":2,"m":"SVM-200","x":0.698,"y":0.428},{"p":2,"m":"SVM-200","x":0.698,"y":0.482},{"p":2,"m":"SVM-200","x":0.68,"y":0.482},{"p":2,"m":"SVM-200","x":0.68,"y":0.496},{"p":2,"m":"SVM-200","x":0.661,"y":0.496},{"p":2,"m":"SVM-200","x":0.661,"y":0.532},{"p":2,"m":"SVM-200","x":0.622,"y":0.532},{"p":2,"m":"SVM-200","x":0.622,"y":0.593},{"p":2,"m":"SVM-200","x":0.604,"y":0.593},{"p":2,"m":"SVM-200","x":0.604,"y":0.621},{"p":2,"m":"SVM-200","x":0.51,"y":0.621},{"p":2,"m":"SVM-200","x":0.51,"y":0.654},{"p":2,"m":"SVM-200","x":0.49,"y":0.654},{"p":2,"m":"SVM-200","x":0.49,"y":0.667},{"p":2,"m":"SVM-200","x":0.471,"y":0.667},{"p":2,"m":"SVM-200","x":0.471,"y":0.675},{"p":2,"m":"SVM-200","x":0.453,"y":0.675},{"p":2,"m":"SVM-200","x":0.453,"y":0.695},{"p":2,"m":"SVM-200","x":0.434,"y":0.695},{"p":2,"m":"SVM-200","x":0.434,"y":0.703},{"p":2,"m":"SVM-200","x":0.413,"y":0.703},{"p":2,"m":"SVM-200","x":0.413,"y":0.723},{"p":2,"m":"SVM-200","x":0.396,"y":0.723},{"p":2,"m":"SVM-200","x":0.396,"y":0.731},{"p":2,"m":"SVM-200","x":0.358,"y":0.731},{"p":2,"m":"SVM-200","x":0.358,"y":0.751},{"p":2,"m":"SVM-200","x":0.34,"y":0.751},{"p":2,"m":"SVM-200","x":0.34,"y":0.757},{"p":2,"m":"SVM-200","x":0.32,"y":0.757},{"p":2,"m":"SVM-200","x":0.32,"y":0.763},{"p":2,"m":"SVM-200","x":0.302,"y":0.763},{"p":2,"m":"SVM-200","x":0.302,"y":0.812},{"p":2,"m":"SVM-200","x":0.283,"y":0.812},{"p":2,"m":"SVM-200","x":0.283,"y":0.824},{"p":2,"m":"SVM-200","x":0.245,"y":0.824},{"p":2,"m":"SVM-200","x":0.245,"y":0.868},{"p":2,"m":"SVM-200","x":0.225,"y":0.868},{"p":2,"m":"SVM-200","x":0.225,"y":0.88},{"p":2,"m":"SVM-200","x":0.205,"y":0.88},{"p":2,"m":"SVM-200","x":0.205,"y":0.888},{"p":2,"m":"SVM-200","x":0.189,"y":0.888},{"p":2,"m":"SVM-200","x":0.189,"y":0.906},{"p":2,"m":"SVM-200","x":0.169,"y":0.906},{"p":2,"m":"SVM-200","x":0.169,"y":0.928},{"p":2,"m":"SVM-200","x":0.149,"y":0.928},{"p":2,"m":"SVM-200","x":0.149,"y":0.98},{"p":2,"m":"SVM-200","x":0.038,"y":0.98},{"p":2,"m":"SVM-200","x":0.038,"y":0.988},{"p":2,"m":"SVM-200","x":0.016,"y":0.988},{"p":2,"m":"SVM-200","x":0.016,"y":0.998},{"p":2,"m":"SVM-200","x":0,"y":1},
{"p":2,"m":"LR-20","x":1,"y":0},{"p":2,"m":"LR-20","x":0.984,"y":0.01},{"p":2,"m":"LR-20","x":0.96,"y":0.01},{"p":2,"m":"LR-20","x":0.96,"y":0.025},{"p":2,"m":"LR-20","x":0.927,"y":0.025},{"p":2,"m":"LR-20","x":0.927,"y":0.05},{"p":2,"m":"LR-20","x":0.918,"y":0.05},{"p":2,"m":"LR-20","x":0.918,"y":0.064},{"p":2,"m":"LR-20","x":0.909,"y":0.064},{"p":2,"m":"LR-20","x":0.909,"y":0.13},{"p":2,"m":"LR-20","x":0.893,"y":0.13},{"p":2,"m":"LR-20","x":0.893,"y":0.14},{"p":2,"m":"LR-20","x":0.886,"y":0.14},{"p":2,"m":"LR-20","x":0.886,"y":0.193},{"p":2,"m":"LR-20","x":0.877,"y":0.193},{"p":2,"m":"LR-20","x":0.877,"y":0.203},{"p":2,"m":"LR-20","x":0.861,"y":0.203},{"p":2,"m":"LR-20","x":0.861,"y":0.219},{"p":2,"m":"LR-20","x":0.845,"y":0.219},{"p":2,"m":"LR-20","x":0.845,"y":0.243},{"p":2,"m":"LR-20","x":0.837,"y":0.243},{"p":2,"m":"LR-20","x":0.837,"y":0.269},{"p":2,"m":"LR-20","x":0.805,"y":0.269},{"p":2,"m":"LR-20","x":0.805,"y":0.295},{"p":2,"m":"LR-20","x":0.763,"y":0.295},{"p":2,"m":"LR-20","x":0.763,"y":0.309},{"p":2,"m":"LR-20","x":0.746,"y":0.309},{"p":2,"m":"LR-20","x":0.746,"y":0.321},{"p":2,"m":"LR-20","x":0.704,"y":0.321},{"p":2,"m":"LR-20","x":0.704,"y":0.346},{"p":2,"m":"LR-20","x":0.688,"y":0.346},{"p":2,"m":"LR-20","x":0.688,"y":0.361},{"p":2,"m":"LR-20","x":0.68,"y":0.361},{"p":2,"m":"LR-20","x":0.68,"y":0.373},{"p":2,"m":"LR-20","x":0.67,"y":0.373},{"p":2,"m":"LR-20","x":0.67,"y":0.398},{"p":2,"m":"LR-20","x":0.662,"y":0.398},{"p":2,"m":"LR-20","x":0.662,"y":0.423},{"p":2,"m":"LR-20","x":0.599,"y":0.423},{"p":2,"m":"LR-20","x":0.599,"y":0.436},{"p":2,"m":"LR-20","x":0.59,"y":0.436},{"p":2,"m":"LR-20","x":0.59,"y":0.45},{"p":2,"m":"LR-20","x":0.573,"y":0.45},{"p":2,"m":"LR-20","x":0.573,"y":0.476},{"p":2,"m":"LR-20","x":0.557,"y":0.476},{"p":2,"m":"LR-20","x":0.557,"y":0.488},{"p":2,"m":"LR-20","x":0.549,"y":0.488},{"p":2,"m":"LR-20","x":0.549,"y":0.514},{"p":2,"m":"LR-20","x":0.525,"y":0.514},{"p":2,"m":"LR-20","x":0.525,"y":0.528},{"p":2,"m":"LR-20","x":0.507,"y":0.528},{"p":2,"m":"LR-20","x":0.507,"y":0.54},{"p":2,"m":"LR-20","x":0.45,"y":0.54},{"p":2,"m":"LR-20","x":0.45,"y":0.577},{"p":2,"m":"LR-20","x":0.434,"y":0.577},{"p":2,"m":"LR-20","x":0.434,"y":0.617},{"p":2,"m":"LR-20","x":0.412,"y":0.617},{"p":2,"m":"LR-20","x":0.412,"y":0.645},{"p":2,"m":"LR-20","x":0.368,"y":0.645},{"p":2,"m":"LR-20","x":0.368,"y":0.655},{"p":2,"m":"LR-20","x":0.334,"y":0.655},{"p":2,"m":"LR-20","x":0.334,"y":0.678},{"p":2,"m":"LR-20","x":0.265,"y":0.678},{"p":2,"m":"LR-20","x":0.265,"y":0.745},{"p":2,"m":"LR-20","x":0.243,"y":0.745},{"p":2,"m":"LR-20","x":0.243,"y":0.759},{"p":2,"m":"LR-20","x":0.233,"y":0.759},{"p":2,"m":"LR-20","x":0.233,"y":0.772},{"p":2,"m":"LR-20","x":0.221,"y":0.772},{"p":2,"m":"LR-20","x":0.221,"y":0.784},{"p":2,"m":"LR-20","x":0.213,"y":0.784},{"p":2,"m":"LR-20","x":0.213,"y":0.799},{"p":2,"m":"LR-20","x":0.203,"y":0.799},{"p":2,"m":"LR-20","x":0.203,"y":0.849},{"p":2,"m":"LR-20","x":0.189,"y":0.849},{"p":2,"m":"LR-20","x":0.189,"y":0.861},{"p":2,"m":"LR-20","x":0.181,"y":0.861},{"p":2,"m":"LR-20","x":0.181,"y":0.886},{"p":2,"m":"LR-20","x":0.155,"y":0.886},{"p":2,"m":"LR-20","x":0.155,"y":0.898},{"p":2,"m":"LR-20","x":0.134,"y":0.898},{"p":2,"m":"LR-20","x":0.134,"y":0.912},{"p":2,"m":"LR-20","x":0.098,"y":0.912},{"p":2,"m":"LR-20","x":0.098,"y":0.926},{"p":2,"m":"LR-20","x":0.07,"y":0.926},{"p":2,"m":"LR-20","x":0,"y":1},
{"p":2,"m":"SVM-20","x":1,"y":0},{"p":2,"m":"SVM-20","x":0.897,"y":0},{"p":2,"m":"SVM-20","x":0.897,"y":0.025},{"p":2,"m":"SVM-20","x":0.881,"y":0.025},{"p":2,"m":"SVM-20","x":0.881,"y":0.04},{"p":2,"m":"SVM-20","x":0.839,"y":0.04},{"p":2,"m":"SVM-20","x":0.839,"y":0.092},{"p":2,"m":"SVM-20","x":0.816,"y":0.092},{"p":2,"m":"SVM-20","x":0.816,"y":0.106},{"p":2,"m":"SVM-20","x":0.792,"y":0.106},{"p":2,"m":"SVM-20","x":0.792,"y":0.118},{"p":2,"m":"SVM-20","x":0.758,"y":0.118},{"p":2,"m":"SVM-20","x":0.758,"y":0.131},{"p":2,"m":"SVM-20","x":0.743,"y":0.131},{"p":2,"m":"SVM-20","x":0.743,"y":0.158},{"p":2,"m":"SVM-20","x":0.736,"y":0.158},{"p":2,"m":"SVM-20","x":0.736,"y":0.184},{"p":2,"m":"SVM-20","x":0.726,"y":0.184},{"p":2,"m":"SVM-20","x":0.726,"y":0.209},{"p":2,"m":"SVM-20","x":0.702,"y":0.209},{"p":2,"m":"SVM-20","x":0.702,"y":0.263},{"p":2,"m":"SVM-20","x":0.67,"y":0.263},{"p":2,"m":"SVM-20","x":0.67,"y":0.357},{"p":2,"m":"SVM-20","x":0.629,"y":0.357},{"p":2,"m":"SVM-20","x":0.629,"y":0.37},{"p":2,"m":"SVM-20","x":0.581,"y":0.37},{"p":2,"m":"SVM-20","x":0.581,"y":0.396},{"p":2,"m":"SVM-20","x":0.565,"y":0.396},{"p":2,"m":"SVM-20","x":0.565,"y":0.408},{"p":2,"m":"SVM-20","x":0.557,"y":0.408},{"p":2,"m":"SVM-20","x":0.557,"y":0.435},{"p":2,"m":"SVM-20","x":0.547,"y":0.435},{"p":2,"m":"SVM-20","x":0.547,"y":0.463},{"p":2,"m":"SVM-20","x":0.541,"y":0.463},{"p":2,"m":"SVM-20","x":0.541,"y":0.488},{"p":2,"m":"SVM-20","x":0.531,"y":0.488},{"p":2,"m":"SVM-20","x":0.531,"y":0.502},{"p":2,"m":"SVM-20","x":0.507,"y":0.502},{"p":2,"m":"SVM-20","x":0.507,"y":0.528},{"p":2,"m":"SVM-20","x":0.477,"y":0.528},{"p":2,"m":"SVM-20","x":0.477,"y":0.568},{"p":2,"m":"SVM-20","x":0.453,"y":0.568},{"p":2,"m":"SVM-20","x":0.453,"y":0.601},{"p":2,"m":"SVM-20","x":0.444,"y":0.601},{"p":2,"m":"SVM-20","x":0.444,"y":0.619},{"p":2,"m":"SVM-20","x":0.412,"y":0.619},{"p":2,"m":"SVM-20","x":0.412,"y":0.646},{"p":2,"m":"SVM-20","x":0.355,"y":0.646},{"p":2,"m":"SVM-20","x":0.355,"y":0.655},{"p":2,"m":"SVM-20","x":0.323,"y":0.655},{"p":2,"m":"SVM-20","x":0.323,"y":0.67},{"p":2,"m":"SVM-20","x":0.283,"y":0.67},{"p":2,"m":"SVM-20","x":0.283,"y":0.683},{"p":2,"m":"SVM-20","x":0.265,"y":0.683},{"p":2,"m":"SVM-20","x":0.265,"y":0.713},{"p":2,"m":"SVM-20","x":0.227,"y":0.713},{"p":2,"m":"SVM-20","x":0.227,"y":0.725},{"p":2,"m":"SVM-20","x":0.192,"y":0.725},{"p":2,"m":"SVM-20","x":0.192,"y":0.751},{"p":2,"m":"SVM-20","x":0.177,"y":0.751},{"p":2,"m":"SVM-20","x":0.177,"y":0.779},{"p":2,"m":"SVM-20","x":0.145,"y":0.779},{"p":2,"m":"SVM-20","x":0.145,"y":0.807},{"p":2,"m":"SVM-20","x":0.138,"y":0.807},{"p":2,"m":"SVM-20","x":0.138,"y":0.821},{"p":2,"m":"SVM-20","x":0.127,"y":0.821},{"p":2,"m":"SVM-20","x":0.127,"y":0.834},{"p":2,"m":"SVM-20","x":0.11,"y":0.834},{"p":2,"m":"SVM-20","x":0.11,"y":0.854},{"p":2,"m":"SVM-20","x":0.095,"y":0.854},{"p":2,"m":"SVM-20","x":0.095,"y":0.885},{"p":2,"m":"SVM-20","x":0.079,"y":0.885},{"p":2,"m":"SVM-20","x":0.079,"y":0.898},{"p":2,"m":"SVM-20","x":0.054,"y":0.898},{"p":2,"m":"SVM-20","x":0.054,"y":0.922},{"p":2,"m":"SVM-20","x":0.037,"y":0.922},{"p":2,"m":"SVM-20","x":0.037,"y":0.935},{"p":2,"m":"SVM-20","x":0.016,"y":0.935},{"p":2,"m":"SVM-20","x":0.016,"y":0.958},{"p":2,"m":"SVM-20","x":0.008,"y":0.958},{"p":2,"m":"SVM-20","x":0.008,"y":1},{"p":2,"m":"SVM-20","x":0,"y":1},

{"p":3,"m":"MGCP-Cox","x":1,"y":0},{"p":3,"m":"MGCP-Cox","x":0.952,"y":0.344},{"p":3,"m":"MGCP-Cox","x":0.952,"y":0.607},{"p":3,"m":"MGCP-Cox","x":0.902,"y":0.607},{"p":3,"m":"MGCP-Cox","x":0.902,"y":0.716},{"p":3,"m":"MGCP-Cox","x":0.851,"y":0.716},{"p":3,"m":"MGCP-Cox","x":0.851,"y":0.75},{"p":3,"m":"MGCP-Cox","x":0.751,"y":0.75},{"p":3,"m":"MGCP-Cox","x":0.751,"y":0.786},{"p":3,"m":"MGCP-Cox","x":0.7,"y":0.786},{"p":3,"m":"MGCP-Cox","x":0.7,"y":0.821},{"p":3,"m":"MGCP-Cox","x":0.601,"y":0.821},{"p":3,"m":"MGCP-Cox","x":0.601,"y":0.857},{"p":3,"m":"MGCP-Cox","x":0.549,"y":0.857},{"p":3,"m":"MGCP-Cox","x":0.549,"y":0.894},{"p":3,"m":"MGCP-Cox","x":0.399,"y":0.894},{"p":3,"m":"MGCP-Cox","x":0.399,"y":0.93},{"p":3,"m":"MGCP-Cox","x":0.149,"y":0.93},{"p":3,"m":"MGCP-Cox","x":0.149,"y":1},{"p":3,"m":"MGCP-Cox","x":0,"y":1},
{"p":3,"m":"LMM-Joint","x":1,"y":0},{"p":3,"m":"LMM-Joint","x":0.536,"y":0.797},{"p":3,"m":"LMM-Joint","x":0.523,"y":0.797},{"p":3,"m":"LMM-Joint","x":0.523,"y":0.811},{"p":3,"m":"LMM-Joint","x":0.479,"y":0.811},{"p":3,"m":"LMM-Joint","x":0.479,"y":0.821},{"p":3,"m":"LMM-Joint","x":0.433,"y":0.821},{"p":3,"m":"LMM-Joint","x":0.433,"y":0.837},{"p":3,"m":"LMM-Joint","x":0.417,"y":0.837},{"p":3,"m":"LMM-Joint","x":0.417,"y":0.851},{"p":3,"m":"LMM-Joint","x":0.403,"y":0.851},{"p":3,"m":"LMM-Joint","x":0.403,"y":0.857},{"p":3,"m":"LMM-Joint","x":0.361,"y":0.857},{"p":3,"m":"LMM-Joint","x":0.361,"y":0.871},{"p":3,"m":"LMM-Joint","x":0.344,"y":0.871},{"p":3,"m":"LMM-Joint","x":0.344,"y":0.875},{"p":3,"m":"LMM-Joint","x":0.326,"y":0.875},{"p":3,"m":"LMM-Joint","x":0.326,"y":0.879},{"p":3,"m":"LMM-Joint","x":0.298,"y":0.879},{"p":3,"m":"LMM-Joint","x":0.298,"y":0.883},{"p":3,"m":"LMM-Joint","x":0.24,"y":0.883},{"p":3,"m":"LMM-Joint","x":0.24,"y":0.89},{"p":3,"m":"LMM-Joint","x":0.21,"y":0.89},{"p":3,"m":"LMM-Joint","x":0.21,"y":0.898},{"p":3,"m":"LMM-Joint","x":0.193,"y":0.898},{"p":3,"m":"LMM-Joint","x":0.193,"y":0.914},{"p":3,"m":"LMM-Joint","x":0.165,"y":0.914},{"p":3,"m":"LMM-Joint","x":0.165,"y":0.93},{"p":3,"m":"LMM-Joint","x":0.151,"y":0.93},{"p":3,"m":"LMM-Joint","x":0.151,"y":0.94},{"p":3,"m":"LMM-Joint","x":0.113,"y":0.94},{"p":3,"m":"LMM-Joint","x":0.113,"y":0.942},{"p":3,"m":"LMM-Joint","x":0.057,"y":0.942},{"p":3,"m":"LMM-Joint","x":0.057,"y":0.958},{"p":3,"m":"LMM-Joint","x":0,"y":0.958},{"p":3,"m":"LMM-Joint","x":0,"y":1},
{"p":3,"m":"LR-200","x":1,"y":0},{"p":3,"m":"LR-200","x":0.952,"y":0.045},{"p":3,"m":"LR-200","x":0.916,"y":0.085},{"p":3,"m":"LR-200","x":0.881,"y":0.085},{"p":3,"m":"LR-200","x":0.881,"y":0.106},{"p":3,"m":"LR-200","x":0.845,"y":0.106},{"p":3,"m":"LR-200","x":0.845,"y":0.198},{"p":3,"m":"LR-200","x":0.793,"y":0.198},{"p":3,"m":"LR-200","x":0.793,"y":0.225},{"p":3,"m":"LR-200","x":0.743,"y":0.225},{"p":3,"m":"LR-200","x":0.743,"y":0.232},{"p":3,"m":"LR-200","x":0.706,"y":0.232},{"p":3,"m":"LR-200","x":0.706,"y":0.248},{"p":3,"m":"LR-200","x":0.69,"y":0.248},{"p":3,"m":"LR-200","x":0.69,"y":0.422},{"p":3,"m":"LR-200","x":0.674,"y":0.422},{"p":3,"m":"LR-200","x":0.674,"y":0.446},{"p":3,"m":"LR-200","x":0.656,"y":0.446},{"p":3,"m":"LR-200","x":0.656,"y":0.471},{"p":3,"m":"LR-200","x":0.64,"y":0.471},{"p":3,"m":"LR-200","x":0.64,"y":0.502},{"p":3,"m":"LR-200","x":0.622,"y":0.502},{"p":3,"m":"LR-200","x":0.622,"y":0.528},{"p":3,"m":"LR-200","x":0.606,"y":0.528},{"p":3,"m":"LR-200","x":0.606,"y":0.535},{"p":3,"m":"LR-200","x":0.586,"y":0.535},{"p":3,"m":"LR-200","x":0.586,"y":0.556},{"p":3,"m":"LR-200","x":0.568,"y":0.556},{"p":3,"m":"LR-200","x":0.568,"y":0.565},{"p":3,"m":"LR-200","x":0.551,"y":0.565},{"p":3,"m":"LR-200","x":0.551,"y":0.573},{"p":3,"m":"LR-200","x":0.535,"y":0.573},{"p":3,"m":"LR-200","x":0.535,"y":0.579},{"p":3,"m":"LR-200","x":0.519,"y":0.579},{"p":3,"m":"LR-200","x":0.519,"y":0.613},{"p":3,"m":"LR-200","x":0.501,"y":0.613},{"p":3,"m":"LR-200","x":0.501,"y":0.634},{"p":3,"m":"LR-200","x":0.481,"y":0.634},{"p":3,"m":"LR-200","x":0.481,"y":0.704},{"p":3,"m":"LR-200","x":0.465,"y":0.704},{"p":3,"m":"LR-200","x":0.465,"y":0.74},{"p":3,"m":"LR-200","x":0.433,"y":0.74},{"p":3,"m":"LR-200","x":0.433,"y":0.767},{"p":3,"m":"LR-200","x":0.395,"y":0.767},{"p":3,"m":"LR-200","x":0.395,"y":0.795},{"p":3,"m":"LR-200","x":0.382,"y":0.795},{"p":3,"m":"LR-200","x":0.382,"y":0.815},{"p":3,"m":"LR-200","x":0.364,"y":0.815},{"p":3,"m":"LR-200","x":0.364,"y":0.843},{"p":3,"m":"LR-200","x":0.348,"y":0.843},{"p":3,"m":"LR-200","x":0.348,"y":0.871},{"p":3,"m":"LR-200","x":0.328,"y":0.871},{"p":3,"m":"LR-200","x":0.328,"y":0.887},{"p":3,"m":"LR-200","x":0.308,"y":0.887},{"p":3,"m":"LR-200","x":0.308,"y":0.918},{"p":3,"m":"LR-200","x":0.292,"y":0.918},{"p":3,"m":"LR-200","x":0.292,"y":0.944},{"p":3,"m":"LR-200","x":0.276,"y":0.944},{"p":3,"m":"LR-200","x":0.276,"y":0.971},{"p":3,"m":"LR-200","x":0.223,"y":0.971},{"p":3,"m":"LR-200","x":0.223,"y":0.977},{"p":3,"m":"LR-200","x":0.189,"y":0.977},{"p":3,"m":"LR-200","x":0.189,"y":0.985},{"p":3,"m":"LR-200","x":0.17,"y":0.985},{"p":3,"m":"LR-200","x":0.17,"y":0.991},{"p":3,"m":"LR-200","x":0.057,"y":0.991},{"p":3,"m":"LR-200","x":0.057,"y":1},{"p":3,"m":"LR-200","x":0,"y":1},
{"p":3,"m":"SVM-200","x":1,"y":0},{"p":3,"m":"SVM-200","x":1,"y":0.035},{"p":3,"m":"SVM-200","x":0.956,"y":0.035},{"p":3,"m":"SVM-200","x":0.956,"y":0.045},{"p":3,"m":"SVM-200","x":0.911,"y":0.045},{"p":3,"m":"SVM-200","x":0.911,"y":0.073},{"p":3,"m":"SVM-200","x":0.865,"y":0.073},{"p":3,"m":"SVM-200","x":0.865,"y":0.152},{"p":3,"m":"SVM-200","x":0.819,"y":0.152},{"p":3,"m":"SVM-200","x":0.819,"y":0.416},{"p":3,"m":"SVM-200","x":0.773,"y":0.416},{"p":3,"m":"SVM-200","x":0.773,"y":0.454},{"p":3,"m":"SVM-200","x":0.682,"y":0.454},{"p":3,"m":"SVM-200","x":0.682,"y":0.5},{"p":3,"m":"SVM-200","x":0.636,"y":0.5},{"p":3,"m":"SVM-200","x":0.636,"y":0.511},{"p":3,"m":"SVM-200","x":0.592,"y":0.511},{"p":3,"m":"SVM-200","x":0.592,"y":0.517},{"p":3,"m":"SVM-200","x":0.547,"y":0.517},{"p":3,"m":"SVM-200","x":0.547,"y":0.523},{"p":3,"m":"SVM-200","x":0.501,"y":0.523},{"p":3,"m":"SVM-200","x":0.501,"y":0.545},{"p":3,"m":"SVM-200","x":0.455,"y":0.545},{"p":3,"m":"SVM-200","x":0.455,"y":0.573},{"p":3,"m":"SVM-200","x":0.409,"y":0.573},{"p":3,"m":"SVM-200","x":0.409,"y":0.664},{"p":3,"m":"SVM-200","x":0.364,"y":0.664},{"p":3,"m":"SVM-200","x":0.364,"y":0.68},{"p":3,"m":"SVM-200","x":0.318,"y":0.68},{"p":3,"m":"SVM-200","x":0.318,"y":0.725},{"p":3,"m":"SVM-200","x":0.272,"y":0.725},{"p":3,"m":"SVM-200","x":0.272,"y":0.762},{"p":3,"m":"SVM-200","x":0.226,"y":0.762},{"p":3,"m":"SVM-200","x":0.226,"y":0.775},{"p":3,"m":"SVM-200","x":0.183,"y":0.775},{"p":3,"m":"SVM-200","x":0.183,"y":0.879},{"p":3,"m":"SVM-200","x":0.138,"y":0.879},{"p":3,"m":"SVM-200","x":0.138,"y":0.91},{"p":3,"m":"SVM-200","x":0.093,"y":0.91},{"p":3,"m":"SVM-200","x":0.093,"y":0.94},{"p":3,"m":"SVM-200","x":0,"y":0.94},{"p":3,"m":"SVM-200","x":0,"y":1},
{"p":3,"m":"LR-20","x":1,"y":0},{"p":3,"m":"LR-20","x":0.944,"y":0.073},{"p":3,"m":"LR-20","x":0.944,"y":0.109},{"p":3,"m":"LR-20","x":0.907,"y":0.109},{"p":3,"m":"LR-20","x":0.907,"y":0.198},{"p":3,"m":"LR-20","x":0.849,"y":0.198},{"p":3,"m":"LR-20","x":0.849,"y":0.216},{"p":3,"m":"LR-20","x":0.813,"y":0.216},{"p":3,"m":"LR-20","x":0.813,"y":0.228},{"p":3,"m":"LR-20","x":0.775,"y":0.228},{"p":3,"m":"LR-20","x":0.775,"y":0.34},{"p":3,"m":"LR-20","x":0.757,"y":0.34},{"p":3,"m":"LR-20","x":0.757,"y":0.347},{"p":3,"m":"LR-20","x":0.695,"y":0.347},{"p":3,"m":"LR-20","x":0.695,"y":0.355},{"p":3,"m":"LR-20","x":0.679,"y":0.355},{"p":3,"m":"LR-20","x":0.679,"y":0.376},{"p":3,"m":"LR-20","x":0.662,"y":0.376},{"p":3,"m":"LR-20","x":0.662,"y":0.471},{"p":3,"m":"LR-20","x":0.64,"y":0.471},{"p":3,"m":"LR-20","x":0.64,"y":0.476},{"p":3,"m":"LR-20","x":0.624,"y":0.476},{"p":3,"m":"LR-20","x":0.624,"y":0.498},{"p":3,"m":"LR-20","x":0.606,"y":0.498},{"p":3,"m":"LR-20","x":0.606,"y":0.51},{"p":3,"m":"LR-20","x":0.568,"y":0.51},{"p":3,"m":"LR-20","x":0.568,"y":0.563},{"p":3,"m":"LR-20","x":0.547,"y":0.563},{"p":3,"m":"LR-20","x":0.547,"y":0.634},{"p":3,"m":"LR-20","x":0.528,"y":0.634},{"p":3,"m":"LR-20","x":0.528,"y":0.64},{"p":3,"m":"LR-20","x":0.512,"y":0.64},{"p":3,"m":"LR-20","x":0.512,"y":0.675},{"p":3,"m":"LR-20","x":0.491,"y":0.675},{"p":3,"m":"LR-20","x":0.491,"y":0.69},{"p":3,"m":"LR-20","x":0.473,"y":0.69},{"p":3,"m":"LR-20","x":0.473,"y":0.708},{"p":3,"m":"LR-20","x":0.435,"y":0.708},{"p":3,"m":"LR-20","x":0.435,"y":0.736},{"p":3,"m":"LR-20","x":0.417,"y":0.736},{"p":3,"m":"LR-20","x":0.417,"y":0.754},{"p":3,"m":"LR-20","x":0.375,"y":0.754},{"p":3,"m":"LR-20","x":0.375,"y":0.767},{"p":3,"m":"LR-20","x":0.358,"y":0.767},{"p":3,"m":"LR-20","x":0.358,"y":0.783},{"p":3,"m":"LR-20","x":0.321,"y":0.783},{"p":3,"m":"LR-20","x":0.321,"y":0.805},{"p":3,"m":"LR-20","x":0.304,"y":0.805},{"p":3,"m":"LR-20","x":0.304,"y":0.852},{"p":3,"m":"LR-20","x":0.284,"y":0.852},{"p":3,"m":"LR-20","x":0.284,"y":0.86},{"p":3,"m":"LR-20","x":0.26,"y":0.86},{"p":3,"m":"LR-20","x":0.26,"y":0.875},{"p":3,"m":"LR-20","x":0.244,"y":0.875},{"p":3,"m":"LR-20","x":0.244,"y":0.889},{"p":3,"m":"LR-20","x":0.21,"y":0.889},{"p":3,"m":"LR-20","x":0.21,"y":0.902},{"p":3,"m":"LR-20","x":0.189,"y":0.902},{"p":3,"m":"LR-20","x":0.189,"y":0.914},{"p":3,"m":"LR-20","x":0.153,"y":0.914},{"p":3,"m":"LR-20","x":0.153,"y":0.934},{"p":3,"m":"LR-20","x":0.115,"y":0.934},{"p":3,"m":"LR-20","x":0.115,"y":0.962},{"p":3,"m":"LR-20","x":0.089,"y":0.966},{"p":3,"m":"LR-20","x":0.073,"y":0.971},{"p":3,"m":"LR-20","x":0.059,"y":0.981},{"p":3,"m":"LR-20","x":0.041,"y":0.991},{"p":3,"m":"LR-20","x":0.037,"y":1},{"p":3,"m":"LR-20","x":0,"y":1},
{"p":3,"m":"SVM-20","x":1,"y":0},{"p":3,"m":"SVM-20","x":0.928,"y":0.069},{"p":3,"m":"SVM-20","x":0.928,"y":0.117},{"p":3,"m":"SVM-20","x":0.886,"y":0.117},{"p":3,"m":"SVM-20","x":0.886,"y":0.17},{"p":3,"m":"SVM-20","x":0.869,"y":0.17},{"p":3,"m":"SVM-20","x":0.869,"y":0.178},{"p":3,"m":"SVM-20","x":0.849,"y":0.178},{"p":3,"m":"SVM-20","x":0.849,"y":0.22},{"p":3,"m":"SVM-20","x":0.831,"y":0.22},{"p":3,"m":"SVM-20","x":0.831,"y":0.225},{"p":3,"m":"SVM-20","x":0.813,"y":0.225},{"p":3,"m":"SVM-20","x":0.813,"y":0.232},{"p":3,"m":"SVM-20","x":0.793,"y":0.232},{"p":3,"m":"SVM-20","x":0.793,"y":0.238},{"p":3,"m":"SVM-20","x":0.735,"y":0.238},{"p":3,"m":"SVM-20","x":0.735,"y":0.26},{"p":3,"m":"SVM-20","x":0.7,"y":0.26},{"p":3,"m":"SVM-20","x":0.7,"y":0.287},{"p":3,"m":"SVM-20","x":0.679,"y":0.287},{"p":3,"m":"SVM-20","x":0.679,"y":0.335},{"p":3,"m":"SVM-20","x":0.662,"y":0.335},{"p":3,"m":"SVM-20","x":0.662,"y":0.368},{"p":3,"m":"SVM-20","x":0.642,"y":0.368},{"p":3,"m":"SVM-20","x":0.642,"y":0.384},{"p":3,"m":"SVM-20","x":0.606,"y":0.384},{"p":3,"m":"SVM-20","x":0.606,"y":0.429},{"p":3,"m":"SVM-20","x":0.586,"y":0.429},{"p":3,"m":"SVM-20","x":0.586,"y":0.478},{"p":3,"m":"SVM-20","x":0.547,"y":0.478},{"p":3,"m":"SVM-20","x":0.547,"y":0.484},{"p":3,"m":"SVM-20","x":0.528,"y":0.484},{"p":3,"m":"SVM-20","x":0.528,"y":0.498},{"p":3,"m":"SVM-20","x":0.511,"y":0.498},{"p":3,"m":"SVM-20","x":0.511,"y":0.531},{"p":3,"m":"SVM-20","x":0.473,"y":0.531},{"p":3,"m":"SVM-20","x":0.473,"y":0.539},{"p":3,"m":"SVM-20","x":0.415,"y":0.539},{"p":3,"m":"SVM-20","x":0.415,"y":0.583},{"p":3,"m":"SVM-20","x":0.398,"y":0.583},{"p":3,"m":"SVM-20","x":0.398,"y":0.606},{"p":3,"m":"SVM-20","x":0.379,"y":0.606},{"p":3,"m":"SVM-20","x":0.379,"y":0.63},{"p":3,"m":"SVM-20","x":0.361,"y":0.63},{"p":3,"m":"SVM-20","x":0.361,"y":0.652},{"p":3,"m":"SVM-20","x":0.344,"y":0.652},{"p":3,"m":"SVM-20","x":0.344,"y":0.668},{"p":3,"m":"SVM-20","x":0.32,"y":0.668},{"p":3,"m":"SVM-20","x":0.32,"y":0.728},{"p":3,"m":"SVM-20","x":0.296,"y":0.728},{"p":3,"m":"SVM-20","x":0.296,"y":0.74},{"p":3,"m":"SVM-20","x":0.272,"y":0.74},{"p":3,"m":"SVM-20","x":0.272,"y":0.762},{"p":3,"m":"SVM-20","x":0.248,"y":0.762},{"p":3,"m":"SVM-20","x":0.248,"y":0.771},{"p":3,"m":"SVM-20","x":0.228,"y":0.771},{"p":3,"m":"SVM-20","x":0.228,"y":0.783},{"p":3,"m":"SVM-20","x":0.208,"y":0.783},{"p":3,"m":"SVM-20","x":0.208,"y":0.799},{"p":3,"m":"SVM-20","x":0.191,"y":0.799},{"p":3,"m":"SVM-20","x":0.191,"y":0.844},{"p":3,"m":"SVM-20","x":0.173,"y":0.844},{"p":3,"m":"SVM-20","x":0.173,"y":0.851},{"p":3,"m":"SVM-20","x":0.133,"y":0.851},{"p":3,"m":"SVM-20","x":0.133,"y":0.871},{"p":3,"m":"SVM-20","x":0.127,"y":0.871},{"p":3,"m":"SVM-20","x":0.127,"y":0.922},{"p":3,"m":"SVM-20","x":0.113,"y":0.922},{"p":3,"m":"SVM-20","x":0.113,"y":0.962},{"p":3,"m":"SVM-20","x":0.089,"y":0.962},{"p":3,"m":"SVM-20","x":0.089,"y":0.97},{"p":3,"m":"SVM-20","x":0.057,"y":0.975},{"p":3,"m":"SVM-20","x":0.037,"y":0.987},{"p":3,"m":"SVM-20","x":0.021,"y":1},{"p":3,"m":"SVM-20","x":0,"y":1},

{"p":4,"m":"MGCP-Cox","x":1,"y":0},{"p":4,"m":"MGCP-Cox","x":1,"y":0.288},{"p":4,"m":"MGCP-Cox","x":0.98,"y":0.288},{"p":4,"m":"MGCP-Cox","x":0.98,"y":0.429},{"p":4,"m":"MGCP-Cox","x":0.857,"y":0.429},{"p":4,"m":"MGCP-Cox","x":0.857,"y":0.573},{"p":4,"m":"MGCP-Cox","x":0.831,"y":0.573},{"p":4,"m":"MGCP-Cox","x":0.831,"y":0.716},{"p":4,"m":"MGCP-Cox","x":0.807,"y":0.716},{"p":4,"m":"MGCP-Cox","x":0.807,"y":0.858},{"p":4,"m":"MGCP-Cox","x":0.489,"y":0.858},{"p":4,"m":"MGCP-Cox","x":0.489,"y":1},{"p":4,"m":"MGCP-Cox","x":0,"y":1},
{"p":4,"m":"LMM-Joint","x":1,"y":0},{"p":4,"m":"LMM-Joint","x":0.729,"y":0.379},{"p":4,"m":"LMM-Joint","x":0.712,"y":0.379},{"p":4,"m":"LMM-Joint","x":0.712,"y":0.401},{"p":4,"m":"LMM-Joint","x":0.685,"y":0.401},{"p":4,"m":"LMM-Joint","x":0.685,"y":0.445},{"p":4,"m":"LMM-Joint","x":0.603,"y":0.445},{"p":4,"m":"LMM-Joint","x":0.603,"y":0.469},{"p":4,"m":"LMM-Joint","x":0.575,"y":0.469},{"p":4,"m":"LMM-Joint","x":0.575,"y":0.557},{"p":4,"m":"LMM-Joint","x":0.567,"y":0.557},{"p":4,"m":"LMM-Joint","x":0.567,"y":0.578},{"p":4,"m":"LMM-Joint","x":0.494,"y":0.578},{"p":4,"m":"LMM-Joint","x":0.494,"y":0.623},{"p":4,"m":"LMM-Joint","x":0.426,"y":0.623},{"p":4,"m":"LMM-Joint","x":0.426,"y":0.666},{"p":4,"m":"LMM-Joint","x":0.405,"y":0.666},{"p":4,"m":"LMM-Joint","x":0.405,"y":0.688},{"p":4,"m":"LMM-Joint","x":0.401,"y":0.688},{"p":4,"m":"LMM-Joint","x":0.401,"y":0.735},{"p":4,"m":"LMM-Joint","x":0.394,"y":0.735},{"p":4,"m":"LMM-Joint","x":0.394,"y":0.754},{"p":4,"m":"LMM-Joint","x":0.389,"y":0.754},{"p":4,"m":"LMM-Joint","x":0.389,"y":0.778},{"p":4,"m":"LMM-Joint","x":0.349,"y":0.778},{"p":4,"m":"LMM-Joint","x":0.349,"y":0.802},{"p":4,"m":"LMM-Joint","x":0.308,"y":0.802},{"p":4,"m":"LMM-Joint","x":0.308,"y":0.823},{"p":4,"m":"LMM-Joint","x":0.236,"y":0.823},{"p":4,"m":"LMM-Joint","x":0.236,"y":0.836},{"p":4,"m":"LMM-Joint","x":0.216,"y":0.836},{"p":4,"m":"LMM-Joint","x":0.216,"y":0.85},{"p":4,"m":"LMM-Joint","x":0.192,"y":0.85},{"p":4,"m":"LMM-Joint","x":0.192,"y":0.866},{"p":4,"m":"LMM-Joint","x":0.132,"y":0.866},{"p":4,"m":"LMM-Joint","x":0.132,"y":0.89},{"p":4,"m":"LMM-Joint","x":0.076,"y":0.89},{"p":4,"m":"LMM-Joint","x":0.076,"y":0.912},{"p":4,"m":"LMM-Joint","x":0.02,"y":0.912},{"p":4,"m":"LMM-Joint","x":0.02,"y":0.935},{"p":4,"m":"LMM-Joint","x":0.006,"y":0.935},{"p":4,"m":"LMM-Joint","x":0.006,"y":0.979},{"p":4,"m":"LMM-Joint","x":0,"y":1},
{"p":4,"m":"LR-200","x":1,"y":0},{"p":4,"m":"LR-200","x":0.994,"y":0.018},{"p":4,"m":"LR-200","x":0.975,"y":0.032},{"p":4,"m":"LR-200","x":0.962,"y":0.032},{"p":4,"m":"LR-200","x":0.951,"y":0.065},{"p":4,"m":"LR-200","x":0.951,"y":0.097},{"p":4,"m":"LR-200","x":0.943,"y":0.097},{"p":4,"m":"LR-200","x":0.943,"y":0.131},{"p":4,"m":"LR-200","x":0.938,"y":0.131},{"p":4,"m":"LR-200","x":0.938,"y":0.149},{"p":4,"m":"LR-200","x":0.923,"y":0.149},{"p":4,"m":"LR-200","x":0.923,"y":0.181},{"p":4,"m":"LR-200","x":0.903,"y":0.181},{"p":4,"m":"LR-200","x":0.903,"y":0.196},{"p":4,"m":"LR-200","x":0.885,"y":0.196},{"p":4,"m":"LR-200","x":0.885,"y":0.217},{"p":4,"m":"LR-200","x":0.881,"y":0.217},{"p":4,"m":"LR-200","x":0.881,"y":0.296},{"p":4,"m":"LR-200","x":0.849,"y":0.296},{"p":4,"m":"LR-200","x":0.849,"y":0.312},{"p":4,"m":"LR-200","x":0.793,"y":0.312},{"p":4,"m":"LR-200","x":0.793,"y":0.329},{"p":4,"m":"LR-200","x":0.772,"y":0.329},{"p":4,"m":"LR-200","x":0.772,"y":0.379},{"p":4,"m":"LR-200","x":0.765,"y":0.379},{"p":4,"m":"LR-200","x":0.765,"y":0.411},{"p":4,"m":"LR-200","x":0.757,"y":0.411},{"p":4,"m":"LR-200","x":0.757,"y":0.427},{"p":4,"m":"LR-200","x":0.735,"y":0.427},{"p":4,"m":"LR-200","x":0.735,"y":0.445},{"p":4,"m":"LR-200","x":0.728,"y":0.445},{"p":4,"m":"LR-200","x":0.728,"y":0.458},{"p":4,"m":"LR-200","x":0.713,"y":0.458},{"p":4,"m":"LR-200","x":0.713,"y":0.477},{"p":4,"m":"LR-200","x":0.683,"y":0.477},{"p":4,"m":"LR-200","x":0.683,"y":0.493},{"p":4,"m":"LR-200","x":0.669,"y":0.493},{"p":4,"m":"LR-200","x":0.669,"y":0.538},{"p":4,"m":"LR-200","x":0.645,"y":0.538},{"p":4,"m":"LR-200","x":0.645,"y":0.557},{"p":4,"m":"LR-200","x":0.633,"y":0.557},{"p":4,"m":"LR-200","x":0.633,"y":0.573},{"p":4,"m":"LR-200","x":0.605,"y":0.573},{"p":4,"m":"LR-200","x":0.605,"y":0.591},{"p":4,"m":"LR-200","x":0.567,"y":0.591},{"p":4,"m":"LR-200","x":0.567,"y":0.639},{"p":4,"m":"LR-200","x":0.561,"y":0.639},{"p":4,"m":"LR-200","x":0.561,"y":0.688},{"p":4,"m":"LR-200","x":0.555,"y":0.688},{"p":4,"m":"LR-200","x":0.555,"y":0.706},{"p":4,"m":"LR-200","x":0.533,"y":0.706},{"p":4,"m":"LR-200","x":0.533,"y":0.722},{"p":4,"m":"LR-200","x":0.519,"y":0.722},{"p":4,"m":"LR-200","x":0.519,"y":0.768},{"p":4,"m":"LR-200","x":0.513,"y":0.768},{"p":4,"m":"LR-200","x":0.513,"y":0.788},{"p":4,"m":"LR-200","x":0.502,"y":0.788},{"p":4,"m":"LR-200","x":0.502,"y":0.804},{"p":4,"m":"LR-200","x":0.494,"y":0.804},{"p":4,"m":"LR-200","x":0.494,"y":0.82},{"p":4,"m":"LR-200","x":0.441,"y":0.82},{"p":4,"m":"LR-200","x":0.441,"y":0.836},{"p":4,"m":"LR-200","x":0.418,"y":0.836},{"p":4,"m":"LR-200","x":0.418,"y":0.884},{"p":4,"m":"LR-200","x":0.369,"y":0.884},{"p":4,"m":"LR-200","x":0.369,"y":0.903},{"p":4,"m":"LR-200","x":0.346,"y":0.903},{"p":4,"m":"LR-200","x":0.346,"y":0.92},{"p":4,"m":"LR-200","x":0.325,"y":0.92},{"p":4,"m":"LR-200","x":0.325,"y":0.938},{"p":4,"m":"LR-200","x":0.303,"y":0.938},{"p":4,"m":"LR-200","x":0.303,"y":0.954},{"p":4,"m":"LR-200","x":0.244,"y":0.954},{"p":4,"m":"LR-200","x":0.244,"y":0.97},{"p":4,"m":"LR-200","x":0.195,"y":0.97},{"p":4,"m":"LR-200","x":0.195,"y":0.986},{"p":4,"m":"LR-200","x":0.13,"y":0.986},{"p":4,"m":"LR-200","x":0.13,"y":1},{"p":4,"m":"LR-200","x":0,"y":1},
{"p":4,"m":"SVM-200","x":1,"y":0},{"p":4,"m":"SVM-200","x":1,"y":0.027},{"p":4,"m":"SVM-200","x":0.991,"y":0.027},{"p":4,"m":"SVM-200","x":0.991,"y":0.077},{"p":4,"m":"SVM-200","x":0.948,"y":0.077},{"p":4,"m":"SVM-200","x":0.948,"y":0.089},{"p":4,"m":"SVM-200","x":0.919,"y":0.089},{"p":4,"m":"SVM-200","x":0.919,"y":0.109},{"p":4,"m":"SVM-200","x":0.905,"y":0.109},{"p":4,"m":"SVM-200","x":0.905,"y":0.123},{"p":4,"m":"SVM-200","x":0.893,"y":0.123},{"p":4,"m":"SVM-200","x":0.893,"y":0.137},{"p":4,"m":"SVM-200","x":0.881,"y":0.137},{"p":4,"m":"SVM-200","x":0.881,"y":0.152},{"p":4,"m":"SVM-200","x":0.857,"y":0.152},{"p":4,"m":"SVM-200","x":0.857,"y":0.187},{"p":4,"m":"SVM-200","x":0.833,"y":0.187},{"p":4,"m":"SVM-200","x":0.833,"y":0.232},{"p":4,"m":"SVM-200","x":0.823,"y":0.232},{"p":4,"m":"SVM-200","x":0.823,"y":0.253},{"p":4,"m":"SVM-200","x":0.812,"y":0.253},{"p":4,"m":"SVM-200","x":0.812,"y":0.272},{"p":4,"m":"SVM-200","x":0.797,"y":0.272},{"p":4,"m":"SVM-200","x":0.797,"y":0.285},{"p":4,"m":"SVM-200","x":0.788,"y":0.285},{"p":4,"m":"SVM-200","x":0.788,"y":0.299},{"p":4,"m":"SVM-200","x":0.773,"y":0.299},{"p":4,"m":"SVM-200","x":0.773,"y":0.317},{"p":4,"m":"SVM-200","x":0.736,"y":0.317},{"p":4,"m":"SVM-200","x":0.736,"y":0.327},{"p":4,"m":"SVM-200","x":0.713,"y":0.327},{"p":4,"m":"SVM-200","x":0.713,"y":0.357},{"p":4,"m":"SVM-200","x":0.701,"y":0.357},{"p":4,"m":"SVM-200","x":0.701,"y":0.379},{"p":4,"m":"SVM-200","x":0.687,"y":0.379},{"p":4,"m":"SVM-200","x":0.687,"y":0.395},{"p":4,"m":"SVM-200","x":0.675,"y":0.395},{"p":4,"m":"SVM-200","x":0.675,"y":0.403},{"p":4,"m":"SVM-200","x":0.641,"y":0.403},{"p":4,"m":"SVM-200","x":0.641,"y":0.427},{"p":4,"m":"SVM-200","x":0.615,"y":0.427},{"p":4,"m":"SVM-200","x":0.615,"y":0.437},{"p":4,"m":"SVM-200","x":0.605,"y":0.437},{"p":4,"m":"SVM-200","x":0.605,"y":0.466},{"p":4,"m":"SVM-200","x":0.591,"y":0.466},{"p":4,"m":"SVM-200","x":0.591,"y":0.521},{"p":4,"m":"SVM-200","x":0.569,"y":0.521},{"p":4,"m":"SVM-200","x":0.569,"y":0.533},{"p":4,"m":"SVM-200","x":0.555,"y":0.533},{"p":4,"m":"SVM-200","x":0.555,"y":0.551},{"p":4,"m":"SVM-200","x":0.533,"y":0.551},{"p":4,"m":"SVM-200","x":0.533,"y":0.578},{"p":4,"m":"SVM-200","x":0.507,"y":0.578},{"p":4,"m":"SVM-200","x":0.507,"y":0.599},{"p":4,"m":"SVM-200","x":0.485,"y":0.599},{"p":4,"m":"SVM-200","x":0.485,"y":0.609},{"p":4,"m":"SVM-200","x":0.457,"y":0.609},{"p":4,"m":"SVM-200","x":0.457,"y":0.618},{"p":4,"m":"SVM-200","x":0.449,"y":0.618},{"p":4,"m":"SVM-200","x":0.449,"y":0.631},{"p":4,"m":"SVM-200","x":0.433,"y":0.631},{"p":4,"m":"SVM-200","x":0.433,"y":0.642},{"p":4,"m":"SVM-200","x":0.423,"y":0.642},{"p":4,"m":"SVM-200","x":0.423,"y":0.657},{"p":4,"m":"SVM-200","x":0.409,"y":0.657},{"p":4,"m":"SVM-200","x":0.409,"y":0.669},{"p":4,"m":"SVM-200","x":0.349,"y":0.669},{"p":4,"m":"SVM-200","x":0.349,"y":0.703},{"p":4,"m":"SVM-200","x":0.304,"y":0.703},{"p":4,"m":"SVM-200","x":0.304,"y":0.716},{"p":4,"m":"SVM-200","x":0.288,"y":0.716},{"p":4,"m":"SVM-200","x":0.288,"y":0.726},{"p":4,"m":"SVM-200","x":0.252,"y":0.726},{"p":4,"m":"SVM-200","x":0.252,"y":0.738},{"p":4,"m":"SVM-200","x":0.22,"y":0.738},{"p":4,"m":"SVM-200","x":0.22,"y":0.756},{"p":4,"m":"SVM-200","x":0.208,"y":0.756},{"p":4,"m":"SVM-200","x":0.208,"y":0.772},{"p":4,"m":"SVM-200","x":0.196,"y":0.772},{"p":4,"m":"SVM-200","x":0.196,"y":0.784},{"p":4,"m":"SVM-200","x":0.186,"y":0.784},{"p":4,"m":"SVM-200","x":0.186,"y":0.794},{"p":4,"m":"SVM-200","x":0.175,"y":0.794},{"p":4,"m":"SVM-200","x":0.175,"y":0.802},{"p":4,"m":"SVM-200","x":0.168,"y":0.802},{"p":4,"m":"SVM-200","x":0.168,"y":0.808},{"p":4,"m":"SVM-200","x":0.146,"y":0.808},{"p":4,"m":"SVM-200","x":0.146,"y":0.848},{"p":4,"m":"SVM-200","x":0.132,"y":0.848},{"p":4,"m":"SVM-200","x":0.132,"y":0.884},{"p":4,"m":"SVM-200","x":0.1,"y":0.884},{"p":4,"m":"SVM-200","x":0.1,"y":0.896},{"p":4,"m":"SVM-200","x":0.084,"y":0.896},{"p":4,"m":"SVM-200","x":0.084,"y":0.908},{"p":4,"m":"SVM-200","x":0.072,"y":0.908},{"p":4,"m":"SVM-200","x":0.072,"y":0.92},{"p":4,"m":"SVM-200","x":0.054,"y":0.92},{"p":4,"m":"SVM-200","x":0.054,"y":0.932},{"p":4,"m":"SVM-200","x":0.04,"y":0.932},{"p":4,"m":"SVM-200","x":0.04,"y":0.944},{"p":4,"m":"SVM-200","x":0.026,"y":0.944},{"p":4,"m":"SVM-200","x":0.026,"y":0.96},{"p":4,"m":"SVM-200","x":0.016,"y":0.96},{"p":4,"m":"SVM-200","x":0.016,"y":0.97},{"p":4,"m":"SVM-200","x":0.006,"y":0.97},{"p":4,"m":"SVM-200","x":0.006,"y":0.992},{"p":4,"m":"SVM-200","x":0,"y":1},
{"p":4,"m":"LR-20","x":1,"y":0},{"p":4,"m":"LR-20","x":0.988,"y":0},{"p":4,"m":"LR-20","x":0.988,"y":0.018},{"p":4,"m":"LR-20","x":0.979,"y":0.018},{"p":4,"m":"LR-20","x":0.979,"y":0.046},{"p":4,"m":"LR-20","x":0.946,"y":0.046},{"p":4,"m":"LR-20","x":0.946,"y":0.073},{"p":4,"m":"LR-20","x":0.92,"y":0.073},{"p":4,"m":"LR-20","x":0.92,"y":0.105},{"p":4,"m":"LR-20","x":0.889,"y":0.105},{"p":4,"m":"LR-20","x":0.889,"y":0.12},{"p":4,"m":"LR-20","x":0.876,"y":0.12},{"p":4,"m":"LR-20","x":0.876,"y":0.253},{"p":4,"m":"LR-20","x":0.845,"y":0.253},{"p":4,"m":"LR-20","x":0.845,"y":0.281},{"p":4,"m":"LR-20","x":0.831,"y":0.281},{"p":4,"m":"LR-20","x":0.831,"y":0.301},{"p":4,"m":"LR-20","x":0.813,"y":0.301},{"p":4,"m":"LR-20","x":0.813,"y":0.329},{"p":4,"m":"LR-20","x":0.793,"y":0.329},{"p":4,"m":"LR-20","x":0.793,"y":0.345},{"p":4,"m":"LR-20","x":0.761,"y":0.345},{"p":4,"m":"LR-20","x":0.761,"y":0.357},{"p":4,"m":"LR-20","x":0.749,"y":0.357},{"p":4,"m":"LR-20","x":0.749,"y":0.379},{"p":4,"m":"LR-20","x":0.743,"y":0.379},{"p":4,"m":"LR-20","x":0.743,"y":0.433},{"p":4,"m":"LR-20","x":0.721,"y":0.433},{"p":4,"m":"LR-20","x":0.721,"y":0.449},{"p":4,"m":"LR-20","x":0.712,"y":0.449},{"p":4,"m":"LR-20","x":0.712,"y":0.463},{"p":4,"m":"LR-20","x":0.693,"y":0.463},{"p":4,"m":"LR-20","x":0.693,"y":0.477},{"p":4,"m":"LR-20","x":0.683,"y":0.477},{"p":4,"m":"LR-20","x":0.683,"y":0.493},{"p":4,"m":"LR-20","x":0.669,"y":0.493},{"p":4,"m":"LR-20","x":0.669,"y":0.522},{"p":4,"m":"LR-20","x":0.657,"y":0.522},{"p":4,"m":"LR-20","x":0.657,"y":0.541},{"p":4,"m":"LR-20","x":0.647,"y":0.541},{"p":4,"m":"LR-20","x":0.647,"y":0.581},{"p":4,"m":"LR-20","x":0.633,"y":0.581},{"p":4,"m":"LR-20","x":0.633,"y":0.605},{"p":4,"m":"LR-20","x":0.625,"y":0.605},{"p":4,"m":"LR-20","x":0.625,"y":0.641},{"p":4,"m":"LR-20","x":0.609,"y":0.641},{"p":4,"m":"LR-20","x":0.609,"y":0.657},{"p":4,"m":"LR-20","x":0.551,"y":0.657},{"p":4,"m":"LR-20","x":0.551,"y":0.671},{"p":4,"m":"LR-20","x":0.497,"y":0.671},{"p":4,"m":"LR-20","x":0.497,"y":0.698},{"p":4,"m":"LR-20","x":0.489,"y":0.698},{"p":4,"m":"LR-20","x":0.489,"y":0.716},{"p":4,"m":"LR-20","x":0.481,"y":0.716},{"p":4,"m":"LR-20","x":0.481,"y":0.746},{"p":4,"m":"LR-20","x":0.467,"y":0.746},{"p":4,"m":"LR-20","x":0.467,"y":0.788},{"p":4,"m":"LR-20","x":0.459,"y":0.788},{"p":4,"m":"LR-20","x":0.459,"y":0.804},{"p":4,"m":"LR-20","x":0.451,"y":0.804},{"p":4,"m":"LR-20","x":0.451,"y":0.824},{"p":4,"m":"LR-20","x":0.445,"y":0.824},{"p":4,"m":"LR-20","x":0.445,"y":0.836},{"p":4,"m":"LR-20","x":0.391,"y":0.836},{"p":4,"m":"LR-20","x":0.391,"y":0.85},{"p":4,"m":"LR-20","x":0.33,"y":0.85},{"p":4,"m":"LR-20","x":0.33,"y":0.868},{"p":4,"m":"LR-20","x":0.308,"y":0.868},{"p":4,"m":"LR-20","x":0.308,"y":0.882},{"p":4,"m":"LR-20","x":0.28,"y":0.882},{"p":4,"m":"LR-20","x":0.28,"y":0.908},{"p":4,"m":"LR-20","x":0.264,"y":0.908},{"p":4,"m":"LR-20","x":0.264,"y":0.926},{"p":4,"m":"LR-20","x":0.24,"y":0.926},{"p":4,"m":"LR-20","x":0.24,"y":0.94},{"p":4,"m":"LR-20","x":0.226,"y":0.94},{"p":4,"m":"LR-20","x":0.226,"y":0.954},{"p":4,"m":"LR-20","x":0.195,"y":0.954},{"p":4,"m":"LR-20","x":0.195,"y":0.97},{"p":4,"m":"LR-20","x":0.188,"y":0.97},{"p":4,"m":"LR-20","x":0.188,"y":0.986},{"p":4,"m":"LR-20","x":0.104,"y":0.986},{"p":4,"m":"LR-20","x":0.104,"y":1},{"p":4,"m":"LR-20","x":0,"y":1},
{"p":4,"m":"SVM-20","x":1,"y":0},{"p":4,"m":"SVM-20","x":0.988,"y":0},{"p":4,"m":"SVM-20","x":0.988,"y":0.046},{"p":4,"m":"SVM-20","x":0.972,"y":0.046},{"p":4,"m":"SVM-20","x":0.972,"y":0.059},{"p":4,"m":"SVM-20","x":0.948,"y":0.059},{"p":4,"m":"SVM-20","x":0.948,"y":0.077},{"p":4,"m":"SVM-20","x":0.933,"y":0.077},{"p":4,"m":"SVM-20","x":0.933,"y":0.093},{"p":4,"m":"SVM-20","x":0.919,"y":0.093},{"p":4,"m":"SVM-20","x":0.919,"y":0.121},{"p":4,"m":"SVM-20","x":0.893,"y":0.121},{"p":4,"m":"SVM-20","x":0.893,"y":0.137},{"p":4,"m":"SVM-20","x":0.871,"y":0.137},{"p":4,"m":"SVM-20","x":0.871,"y":0.152},{"p":4,"m":"SVM-20","x":0.853,"y":0.152},{"p":4,"m":"SVM-20","x":0.853,"y":0.173},{"p":4,"m":"SVM-20","x":0.836,"y":0.173},{"p":4,"m":"SVM-20","x":0.836,"y":0.193},{"p":4,"m":"SVM-20","x":0.769,"y":0.193},{"p":4,"m":"SVM-20","x":0.769,"y":0.209},{"p":4,"m":"SVM-20","x":0.753,"y":0.209},{"p":4,"m":"SVM-20","x":0.753,"y":0.225},{"p":4,"m":"SVM-20","x":0.701,"y":0.225},{"p":4,"m":"SVM-20","x":0.701,"y":0.241},{"p":4,"m":"SVM-20","x":0.695,"y":0.241},{"p":4,"m":"SVM-20","x":0.695,"y":0.253},{"p":4,"m":"SVM-20","x":0.685,"y":0.253},{"p":4,"m":"SVM-20","x":0.685,"y":0.269},{"p":4,"m":"SVM-20","x":0.655,"y":0.269},{"p":4,"m":"SVM-20","x":0.655,"y":0.299},{"p":4,"m":"SVM-20","x":0.625,"y":0.299},{"p":4,"m":"SVM-20","x":0.625,"y":0.315},{"p":4,"m":"SVM-20","x":0.587,"y":0.315},{"p":4,"m":"SVM-20","x":0.587,"y":0.343},{"p":4,"m":"SVM-20","x":0.573,"y":0.343},{"p":4,"m":"SVM-20","x":0.573,"y":0.375},{"p":4,"m":"SVM-20","x":0.551,"y":0.375},{"p":4,"m":"SVM-20","x":0.551,"y":0.403},{"p":4,"m":"SVM-20","x":0.534,"y":0.403},{"p":4,"m":"SVM-20","x":0.534,"y":0.431},{"p":4,"m":"SVM-20","x":0.526,"y":0.431},{"p":4,"m":"SVM-20","x":0.526,"y":0.506},{"p":4,"m":"SVM-20","x":0.497,"y":0.506},{"p":4,"m":"SVM-20","x":0.497,"y":0.522},{"p":4,"m":"SVM-20","x":0.429,"y":0.522},{"p":4,"m":"SVM-20","x":0.429,"y":0.538},{"p":4,"m":"SVM-20","x":0.41,"y":0.538},{"p":4,"m":"SVM-20","x":0.41,"y":0.581},{"p":4,"m":"SVM-20","x":0.401,"y":0.581},{"p":4,"m":"SVM-20","x":0.401,"y":0.597},{"p":4,"m":"SVM-20","x":0.37,"y":0.597},{"p":4,"m":"SVM-20","x":0.37,"y":0.613},{"p":4,"m":"SVM-20","x":0.33,"y":0.613},{"p":4,"m":"SVM-20","x":0.33,"y":0.641},{"p":4,"m":"SVM-20","x":0.3,"y":0.641},{"p":4,"m":"SVM-20","x":0.3,"y":0.649},{"p":4,"m":"SVM-20","x":0.292,"y":0.649},{"p":4,"m":"SVM-20","x":0.292,"y":0.712},{"p":4,"m":"SVM-20","x":0.288,"y":0.712},{"p":4,"m":"SVM-20","x":0.288,"y":0.764},{"p":4,"m":"SVM-20","x":0.28,"y":0.764},{"p":4,"m":"SVM-20","x":0.28,"y":0.776},{"p":4,"m":"SVM-20","x":0.268,"y":0.776},{"p":4,"m":"SVM-20","x":0.268,"y":0.788},{"p":4,"m":"SVM-20","x":0.24,"y":0.788},{"p":4,"m":"SVM-20","x":0.24,"y":0.823},{"p":4,"m":"SVM-20","x":0.222,"y":0.823},{"p":4,"m":"SVM-20","x":0.222,"y":0.848},{"p":4,"m":"SVM-20","x":0.195,"y":0.848},{"p":4,"m":"SVM-20","x":0.195,"y":0.866},{"p":4,"m":"SVM-20","x":0.18,"y":0.866},{"p":4,"m":"SVM-20","x":0.18,"y":0.884},{"p":4,"m":"SVM-20","x":0.146,"y":0.884},{"p":4,"m":"SVM-20","x":0.146,"y":0.936},{"p":4,"m":"SVM-20","x":0.14,"y":0.936},{"p":4,"m":"SVM-20","x":0.14,"y":0.96},{"p":4,"m":"SVM-20","x":0.135,"y":0.96},{"p":4,"m":"SVM-20","x":0.135,"y":0.98},{"p":4,"m":"SVM-20","x":0.128,"y":0.98},{"p":4,"m":"SVM-20","x":0.128,"y":0.986},{"p":4,"m":"SVM-20","x":0.06,"y":0.986},{"p":4,"m":"SVM-20","x":0.06,"y":1},{"p":4,"m":"SVM-20","x":0,"y":1}
 ]
},
"resolve": {"scale": {"color": "independent"}, "legend": {"color": "independent"}},
"spacing": 11,
"vconcat": [
 {
  "spacing": 94,
  "resolve": {"scale": {"color": "independent"}, "legend": {"color": "independent"}},
  "hconcat": [
   {
    "width": 545, "height": 453,
    "title": {"text": "Percentile 0.5, horizon 15 months", "dx": -7, "offset": 6},
    "layer": [
     {"data": {"name": "diag"}, "mark": {"type": "line", "color": "#c4c4c4", "strokeWidth": 1},
      "encoding": {
       "x": {"field": "x", "type": "quantitative", "scale": {"domain": [-0.15, 1.15], "reverse": true, "nice": false, "zero": false}, "axis": {"values": [0, 0.2, 0.4, 0.6, 0.8, 1], "format": ".1f", "labelFontSize": 12, "labelPadding": 4, "title": null}},
       "y": {"field": "y", "type": "quantitative", "scale": {"domain": [-0.04, 1.04], "nice": false, "zero": false}, "axis": {"values": [0, 0.2, 0.4, 0.6, 0.8, 1], "format": ".1f", "labelFontSize": 12, "labelAngle": -90, "labelAlign": "center", "labelBaseline": "bottom", "labelPadding": 5, "title": "Sensitivity", "titlePadding": 30, "titleY": 211}}
      }},
     {"data": {"name": "roc"}, "transform": [{"filter": "datum.p == 1"}],
      "mark": {"type": "line", "strokeWidth": 1.6, "strokeJoin": "miter"},
      "encoding": {
       "x": {"field": "x", "type": "quantitative"},
       "y": {"field": "y", "type": "quantitative"},
       "order": {"value": null},
       "color": {"field": "m", "type": "nominal",
        "scale": {"domain": ["MGCP-Cox", "LMM-Joint", "LR-200", "SVM-200", "LR-20", "SVM-20"], "range": ["#ff0000", "#0000ff", "#00ff00", "#000000", "#a020f0", "#a52a2a"]},
        "legend": {"title": "AUC", "orient": "none", "legendX": 299, "legendY": 222,
         "labelExpr": "datum.value=='MGCP-Cox'?'0.850 ── MGCP-Cox':datum.value=='LMM-Joint'?'0.774 ── LMM-Joint':datum.value=='LR-200'?'0.802 ── LR-200':datum.value=='SVM-200'?'0.606 ── SVM-200':datum.value=='LR-20'?'0.511 ── LR-20':'0.479 ── SVM-20'",
         "encode": {"labels": {"update": {"fill": {"signal": "datum.value=='MGCP-Cox'?'#ff0000':datum.value=='LMM-Joint'?'#2b45c2':datum.value=='LR-200'?'#00c05a':datum.value=='SVM-200'?'#000000':datum.value=='LR-20'?'#bb6bf7':'#c0504d'"}}}}}
       }
      }}
    ]
   },
   {
    "width": 545, "height": 452,
    "title": {"text": "Percentile 0.5, horizon 12 months", "dx": 9, "offset": 6},
    "layer": [
     {"data": {"name": "diag"}, "mark": {"type": "line", "color": "#c4c4c4", "strokeWidth": 1},
      "encoding": {
       "x": {"field": "x", "type": "quantitative", "scale": {"domain": [-0.15, 1.15], "reverse": true, "nice": false, "zero": false}, "axis": {"values": [0, 0.2, 0.4, 0.6, 0.8, 1], "format": ".1f", "labelFontSize": 12, "labelPadding": 4, "title": null}},
       "y": {"field": "y", "type": "quantitative", "scale": {"domain": [-0.04, 1.04], "nice": false, "zero": false}, "axis": {"values": [0, 0.2, 0.4, 0.6, 0.8, 1], "format": ".1f", "labelFontSize": 12, "labelAngle": -90, "labelAlign": "center", "labelBaseline": "bottom", "labelPadding": 7, "title": null}}
      }},
     {"data": {"name": "roc"}, "transform": [{"filter": "datum.p == 2"}],
      "mark": {"type": "line", "strokeWidth": 1.6, "strokeJoin": "miter"},
      "encoding": {
       "x": {"field": "x", "type": "quantitative"},
       "y": {"field": "y", "type": "quantitative"},
       "order": {"value": null},
       "color": {"field": "m", "type": "nominal",
        "scale": {"domain": ["MGCP-Cox", "LMM-Joint", "LR-200", "SVM-200", "LR-20", "SVM-20"], "range": ["#ff0000", "#0000ff", "#00ff00", "#000000", "#a020f0", "#a52a2a"]},
        "legend": {"title": "AUC", "orient": "none", "legendX": 320, "legendY": 221,
         "labelExpr": "datum.value=='MGCP-Cox'?'0.869 ── MGCP-Cox':datum.value=='LMM-Joint'?'0.851 ── LMM-Joint':datum.value=='LR-200'?'0.855 ── LR-200':datum.value=='SVM-200'?'0.602 ── SVM-200':datum.value=='LR-20'?'0.526 ── LR-20':'0.463 ── SVM-20'",
         "encode": {"labels": {"update": {"fill": {"signal": "datum.value=='MGCP-Cox'?'#ff0000':datum.value=='LMM-Joint'?'#2b45c2':datum.value=='LR-200'?'#00c05a':datum.value=='SVM-200'?'#000000':datum.value=='LR-20'?'#bb6bf7':'#c0504d'"}}}}}
       }
      }}
    ]
   }
  ]
 },
 {
  "spacing": 100,
  "resolve": {"scale": {"color": "independent"}, "legend": {"color": "independent"}},
  "hconcat": [
   {
    "width": 545, "height": 454,
    "title": {"text": "Percentile 0.3, horizon 20 months", "dx": -7, "offset": 9},
    "layer": [
     {"data": {"name": "diag"}, "mark": {"type": "line", "color": "#c4c4c4", "strokeWidth": 1},
      "encoding": {
       "x": {"field": "x", "type": "quantitative", "scale": {"domain": [-0.15, 1.15], "reverse": true, "nice": false, "zero": false}, "axis": {"values": [0, 0.2, 0.4, 0.6, 0.8, 1], "format": ".1f", "labelFontSize": 9.5, "labelPadding": 5, "title": "Specificity", "titlePadding": 4, "titleX": 261}},
       "y": {"field": "y", "type": "quantitative", "scale": {"domain": [-0.04, 1.04], "nice": false, "zero": false}, "axis": {"values": [0, 0.2, 0.4, 0.6, 0.8, 1], "format": ".1f", "labelFontSize": 9.5, "labelAngle": -90, "labelAlign": "center", "labelBaseline": "bottom", "labelPadding": 7, "title": "Sensitivity", "titlePadding": 28, "titleY": 214}}
      }},
     {"data": {"name": "roc"}, "transform": [{"filter": "datum.p == 3"}],
      "mark": {"type": "line", "strokeWidth": 1.6, "strokeJoin": "miter"},
      "encoding": {
       "x": {"field": "x", "type": "quantitative"},
       "y": {"field": "y", "type": "quantitative"},
       "order": {"value": null},
       "color": {"field": "m", "type": "nominal",
        "scale": {"domain": ["MGCP-Cox", "LMM-Joint", "LR-200", "SVM-200", "LR-20", "SVM-20"], "range": ["#ff0000", "#0000ff", "#00ff00", "#000000", "#a020f0", "#a52a2a"]},
        "legend": {"title": "AUC", "orient": "none", "legendX": 299, "legendY": 233,
         "labelExpr": "datum.value=='MGCP-Cox'?'0.830 ── MGCP-Cox':datum.value=='LMM-Joint'?'0.660 ── LMM-Joint':datum.value=='LR-200'?'0.597 ── LR-200':datum.value=='SVM-200'?'0.549 ── SVM-200':datum.value=='LR-20'?'0.590 ── LR-20':'0.512 ── SVM-20'",
         "encode": {"labels": {"update": {"fill": {"signal": "datum.value=='MGCP-Cox'?'#ff0000':datum.value=='LMM-Joint'?'#2b45c2':datum.value=='LR-200'?'#00c05a':datum.value=='SVM-200'?'#000000':datum.value=='LR-20'?'#bb6bf7':'#c0504d'"}}}}}
       }
      }}
    ]
   },
   {
    "width": 541, "height": 452,
    "title": {"text": "Percentile 0.3, horizon 15 months", "dx": 4, "offset": 7},
    "layer": [
     {"data": {"name": "diag"}, "mark": {"type": "line", "color": "#c4c4c4", "strokeWidth": 1},
      "encoding": {
       "x": {"field": "x", "type": "quantitative", "scale": {"domain": [-0.15, 1.15], "reverse": true, "nice": false, "zero": false}, "axis": {"values": [0, 0.2, 0.4, 0.6, 0.8, 1], "format": ".1f", "labelFontSize": 9.5, "labelPadding": 5, "title": "Specificity", "titlePadding": 4, "titleX": 287}},
       "y": {"field": "y", "type": "quantitative", "scale": {"domain": [-0.04, 1.04], "nice": false, "zero": false}, "axis": {"values": [0, 0.2, 0.4, 0.6, 0.8, 1], "format": ".1f", "labelFontSize": 9.5, "labelAngle": -90, "labelAlign": "center", "labelBaseline": "bottom", "labelPadding": 8, "title": null}}
      }},
     {"data": {"name": "roc"}, "transform": [{"filter": "datum.p == 4"}],
      "mark": {"type": "line", "strokeWidth": 1.6, "strokeJoin": "miter"},
      "encoding": {
       "x": {"field": "x", "type": "quantitative"},
       "y": {"field": "y", "type": "quantitative"},
       "order": {"value": null},
       "color": {"field": "m", "type": "nominal",
        "scale": {"domain": ["MGCP-Cox", "LMM-Joint", "LR-200", "SVM-200", "LR-20", "SVM-20"], "range": ["#ff0000", "#0000ff", "#00ff00", "#000000", "#a020f0", "#a52a2a"]},
        "legend": {"title": "AUC", "orient": "none", "legendX": 316, "legendY": 233,
         "labelExpr": "datum.value=='MGCP-Cox'?'0.850 ── MGCP-Cox':datum.value=='LMM-Joint'?'0.564 ── LMM-Joint':datum.value=='LR-200'?'0.668 ── LR-200':datum.value=='SVM-200'?'0.534 ── SVM-200':datum.value=='LR-20'?'0.644 ── LR-20':'0.499 ── SVM-20'",
         "encode": {"labels": {"update": {"fill": {"signal": "datum.value=='MGCP-Cox'?'#ff0000':datum.value=='LMM-Joint'?'#2b45c2':datum.value=='LR-200'?'#00c05a':datum.value=='SVM-200'?'#000000':datum.value=='LR-20'?'#bb6bf7':'#c0504d'"}}}}}
       }
      }}
    ]
   }
  ]
 }
]
}
